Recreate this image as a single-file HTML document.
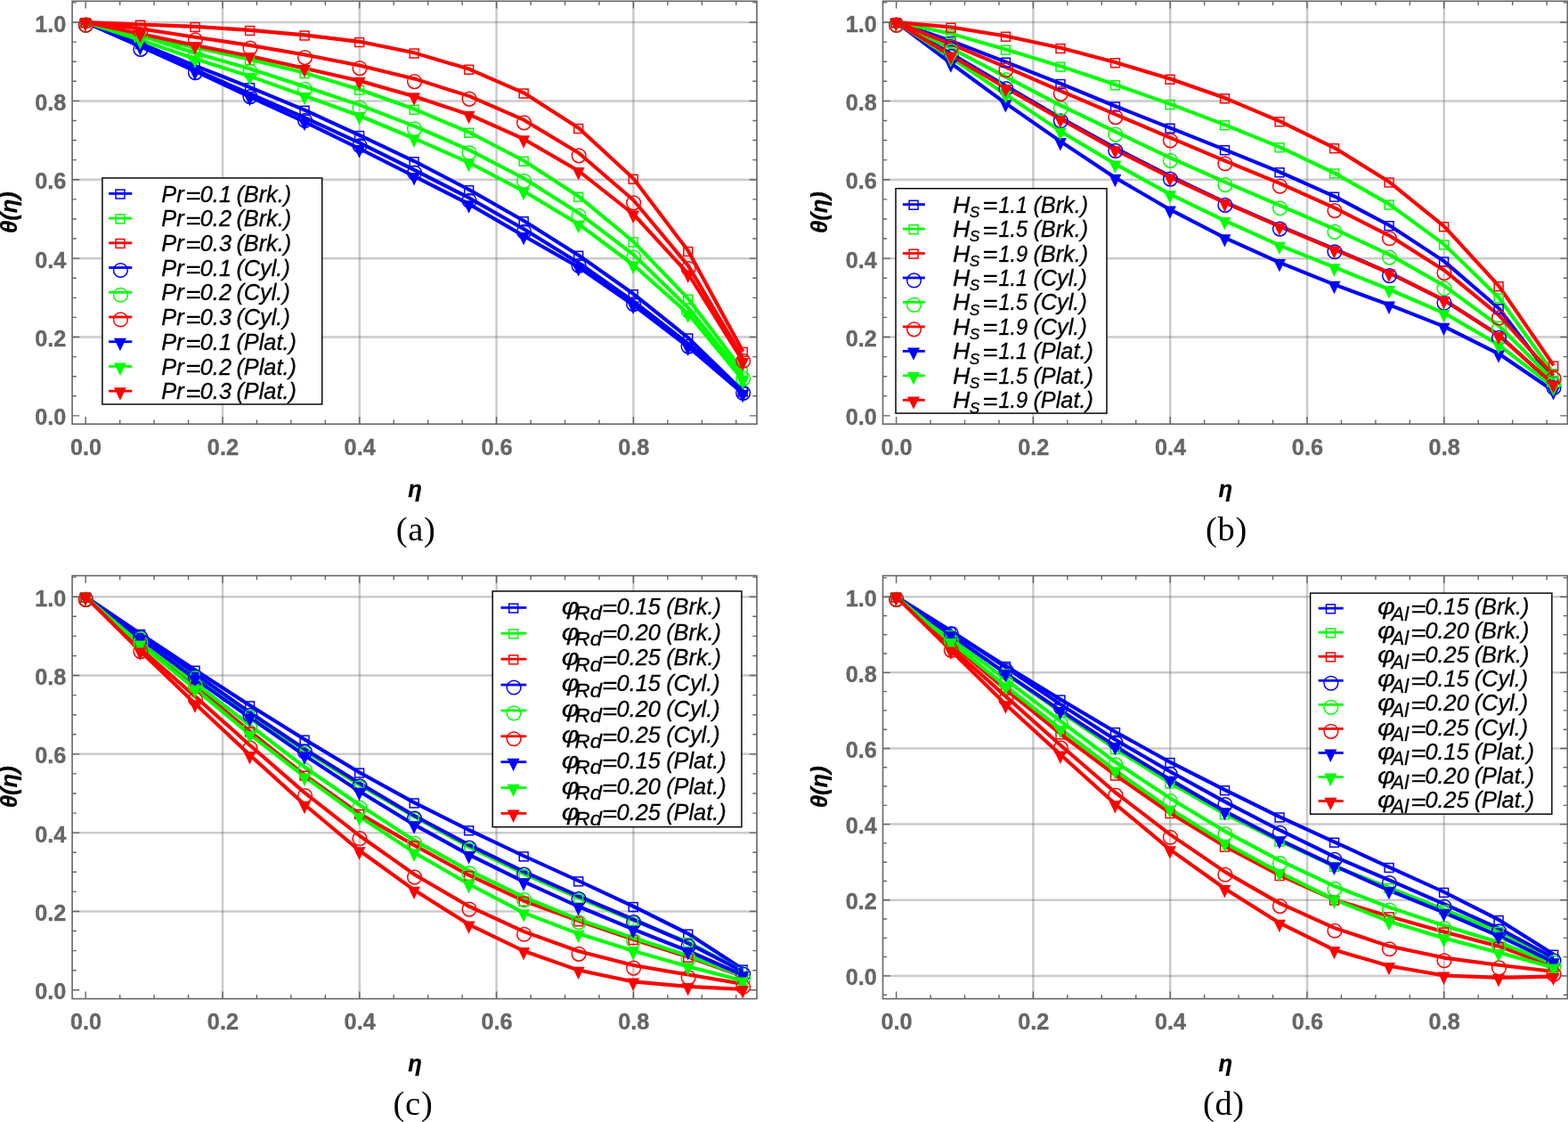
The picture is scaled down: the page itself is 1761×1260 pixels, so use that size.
<!DOCTYPE html>
<html lang="en">
<head>
<meta charset="utf-8">
<title>Temperature profiles</title>
<style>
html,body{margin:0;padding:0;background:#fff;}
body{width:1761px;height:1260px;overflow:hidden;}
svg{display:block;}
text{font-family:"Liberation Sans",Arial,Helvetica,sans-serif;}
.tk{font-weight:bold;font-size:25.3px;fill:#666;stroke:#666;stroke-width:0.35px;}
.ax{font-weight:bold;font-style:italic;font-size:25.6px;fill:#000;stroke:#000;stroke-width:0.3px;}
.lg{font-style:italic;font-size:25.3px;fill:#000;stroke:#000;stroke-width:0.3px;}
.cap{font-family:"Liberation Serif","DejaVu Serif",serif;font-size:38.5px;letter-spacing:0.7px;fill:#000;}
</style>
</head>
<body>
<svg width="1761" height="1260" viewBox="0 0 1761 1260" role="img" aria-label="Temperature profiles for four parameter studies">
<rect width="1761" height="1260" fill="#fff"/>
<g id="panel-a">
<g stroke="#666" stroke-opacity="0.34" stroke-width="2.5" fill="none">
<path d="M250 1.3V476.2"/>
<path d="M403.8 1.3V476.2"/>
<path d="M557.6 1.3V476.2"/>
<path d="M711.4 1.3V476.2"/>
<path d="M81.1 378.52H850"/>
<path d="M81.1 290.14H850"/>
<path d="M81.1 201.76H850"/>
<path d="M81.1 113.38H850"/>
<path d="M81.1 25H850"/>
</g>
<g fill="none" stroke-width="4.1" stroke-linejoin="round">
<path d="M96.2 25L157.72 48.85L219.24 73.85L280.76 98.05L342.28 123.55L403.8 151.85L465.32 181.05L526.84 213.05L588.36 248.05L649.88 286.65L711.4 330.05L772.92 379.35L834.44 439.35" stroke="#0000ff"/>
<path d="M96.2 25L157.72 40.35L219.24 53.35L280.76 66.85L342.28 81.85L403.8 100.55L465.32 122.55L526.84 148.55L588.36 180.55L649.88 220.55L711.4 271.35L772.92 335.55L834.44 416.75" stroke="#00ff00"/>
<path d="M96.2 25L157.72 27.55L219.24 29.85L280.76 33.85L342.28 39.35L403.8 46.85L465.32 59.35L526.84 77.55L588.36 104.35L649.88 143.85L711.4 200.55L772.92 281.85L834.44 394.75" stroke="#ff0000"/>
<path d="M96.2 25L157.72 52.2L219.24 78.4L280.76 105.4L342.28 132.2L403.8 160.4L465.32 190.9L526.84 222.2L588.36 257.2L649.88 295.2L711.4 338.4L772.92 385.9L834.44 438.2" stroke="#0000ff"/>
<path d="M96.2 25L157.72 39.7L219.24 59.7L280.76 77.2L342.28 97.2L403.8 117.9L465.32 141.7L526.84 168.4L588.36 200.2L649.88 239.2L711.4 285.9L772.92 345.9L834.44 422.1" stroke="#00ff00"/>
<path d="M96.2 25L157.72 32.2L219.24 41.7L280.76 50.9L342.28 61.4L403.8 73.4L465.32 88.4L526.84 107.9L588.36 134.7L649.88 171.7L711.4 224.7L772.92 298.4L834.44 402.1" stroke="#ff0000"/>
<path d="M96.2 25L157.72 52L219.24 80L280.76 108.8L342.28 136.8L403.8 167L465.32 198L526.84 229.2L588.36 265L649.88 300L711.4 342.5L772.92 389.5L834.44 442" stroke="#0000ff"/>
<path d="M96.2 25L157.72 45L219.24 66.1L280.76 85.6L342.28 107.6L403.8 130L465.32 155.5L526.84 182.7L588.36 214.7L649.88 251.7L711.4 297.5L772.92 352.5L834.44 427" stroke="#00ff00"/>
<path d="M96.2 25L157.72 38L219.24 51L280.76 63L342.28 76.8L403.8 90.7L465.32 108.2L526.84 128.7L588.36 156.2L649.88 192L711.4 240.5L772.92 307.5L834.44 406" stroke="#ff0000"/>
</g>
<g><rect x="91.05" y="20.7" width="9.9" height="9.9" fill="none" stroke="#0000ff" stroke-width="1.5"/><rect x="152.57" y="44.55" width="9.9" height="9.9" fill="none" stroke="#0000ff" stroke-width="1.5"/><rect x="214.09" y="69.55" width="9.9" height="9.9" fill="none" stroke="#0000ff" stroke-width="1.5"/><rect x="275.61" y="93.75" width="9.9" height="9.9" fill="none" stroke="#0000ff" stroke-width="1.5"/><rect x="337.13" y="119.25" width="9.9" height="9.9" fill="none" stroke="#0000ff" stroke-width="1.5"/><rect x="398.65" y="147.55" width="9.9" height="9.9" fill="none" stroke="#0000ff" stroke-width="1.5"/><rect x="460.17" y="176.75" width="9.9" height="9.9" fill="none" stroke="#0000ff" stroke-width="1.5"/><rect x="521.69" y="208.75" width="9.9" height="9.9" fill="none" stroke="#0000ff" stroke-width="1.5"/><rect x="583.21" y="243.75" width="9.9" height="9.9" fill="none" stroke="#0000ff" stroke-width="1.5"/><rect x="644.73" y="282.35" width="9.9" height="9.9" fill="none" stroke="#0000ff" stroke-width="1.5"/><rect x="706.25" y="325.75" width="9.9" height="9.9" fill="none" stroke="#0000ff" stroke-width="1.5"/><rect x="767.77" y="375.05" width="9.9" height="9.9" fill="none" stroke="#0000ff" stroke-width="1.5"/><rect x="829.29" y="435.05" width="9.9" height="9.9" fill="none" stroke="#0000ff" stroke-width="1.5"/></g>
<g><rect x="91.05" y="20.7" width="9.9" height="9.9" fill="none" stroke="#00ff00" stroke-width="1.5"/><rect x="152.57" y="36.05" width="9.9" height="9.9" fill="none" stroke="#00ff00" stroke-width="1.5"/><rect x="214.09" y="49.05" width="9.9" height="9.9" fill="none" stroke="#00ff00" stroke-width="1.5"/><rect x="275.61" y="62.55" width="9.9" height="9.9" fill="none" stroke="#00ff00" stroke-width="1.5"/><rect x="337.13" y="77.55" width="9.9" height="9.9" fill="none" stroke="#00ff00" stroke-width="1.5"/><rect x="398.65" y="96.25" width="9.9" height="9.9" fill="none" stroke="#00ff00" stroke-width="1.5"/><rect x="460.17" y="118.25" width="9.9" height="9.9" fill="none" stroke="#00ff00" stroke-width="1.5"/><rect x="521.69" y="144.25" width="9.9" height="9.9" fill="none" stroke="#00ff00" stroke-width="1.5"/><rect x="583.21" y="176.25" width="9.9" height="9.9" fill="none" stroke="#00ff00" stroke-width="1.5"/><rect x="644.73" y="216.25" width="9.9" height="9.9" fill="none" stroke="#00ff00" stroke-width="1.5"/><rect x="706.25" y="267.05" width="9.9" height="9.9" fill="none" stroke="#00ff00" stroke-width="1.5"/><rect x="767.77" y="331.25" width="9.9" height="9.9" fill="none" stroke="#00ff00" stroke-width="1.5"/><rect x="829.29" y="412.45" width="9.9" height="9.9" fill="none" stroke="#00ff00" stroke-width="1.5"/></g>
<g><rect x="91.05" y="20.7" width="9.9" height="9.9" fill="none" stroke="#ff0000" stroke-width="1.5"/><rect x="152.57" y="23.25" width="9.9" height="9.9" fill="none" stroke="#ff0000" stroke-width="1.5"/><rect x="214.09" y="25.55" width="9.9" height="9.9" fill="none" stroke="#ff0000" stroke-width="1.5"/><rect x="275.61" y="29.55" width="9.9" height="9.9" fill="none" stroke="#ff0000" stroke-width="1.5"/><rect x="337.13" y="35.05" width="9.9" height="9.9" fill="none" stroke="#ff0000" stroke-width="1.5"/><rect x="398.65" y="42.55" width="9.9" height="9.9" fill="none" stroke="#ff0000" stroke-width="1.5"/><rect x="460.17" y="55.05" width="9.9" height="9.9" fill="none" stroke="#ff0000" stroke-width="1.5"/><rect x="521.69" y="73.25" width="9.9" height="9.9" fill="none" stroke="#ff0000" stroke-width="1.5"/><rect x="583.21" y="100.05" width="9.9" height="9.9" fill="none" stroke="#ff0000" stroke-width="1.5"/><rect x="644.73" y="139.55" width="9.9" height="9.9" fill="none" stroke="#ff0000" stroke-width="1.5"/><rect x="706.25" y="196.25" width="9.9" height="9.9" fill="none" stroke="#ff0000" stroke-width="1.5"/><rect x="767.77" y="277.55" width="9.9" height="9.9" fill="none" stroke="#ff0000" stroke-width="1.5"/><rect x="829.29" y="390.45" width="9.9" height="9.9" fill="none" stroke="#ff0000" stroke-width="1.5"/></g>
<g><circle cx="96.4" cy="28.15" r="7.85" fill="none" stroke="#0000ff" stroke-width="1.5"/><circle cx="157.92" cy="55.35" r="7.85" fill="none" stroke="#0000ff" stroke-width="1.5"/><circle cx="219.44" cy="81.55" r="7.85" fill="none" stroke="#0000ff" stroke-width="1.5"/><circle cx="280.96" cy="108.55" r="7.85" fill="none" stroke="#0000ff" stroke-width="1.5"/><circle cx="342.48" cy="135.35" r="7.85" fill="none" stroke="#0000ff" stroke-width="1.5"/><circle cx="404" cy="163.55" r="7.85" fill="none" stroke="#0000ff" stroke-width="1.5"/><circle cx="465.52" cy="194.05" r="7.85" fill="none" stroke="#0000ff" stroke-width="1.5"/><circle cx="527.04" cy="225.35" r="7.85" fill="none" stroke="#0000ff" stroke-width="1.5"/><circle cx="588.56" cy="260.35" r="7.85" fill="none" stroke="#0000ff" stroke-width="1.5"/><circle cx="650.08" cy="298.35" r="7.85" fill="none" stroke="#0000ff" stroke-width="1.5"/><circle cx="711.6" cy="341.55" r="7.85" fill="none" stroke="#0000ff" stroke-width="1.5"/><circle cx="773.12" cy="389.05" r="7.85" fill="none" stroke="#0000ff" stroke-width="1.5"/><circle cx="834.64" cy="441.35" r="7.85" fill="none" stroke="#0000ff" stroke-width="1.5"/></g>
<g><circle cx="96.4" cy="28.15" r="7.85" fill="none" stroke="#00ff00" stroke-width="1.5"/><circle cx="157.92" cy="42.85" r="7.85" fill="none" stroke="#00ff00" stroke-width="1.5"/><circle cx="219.44" cy="62.85" r="7.85" fill="none" stroke="#00ff00" stroke-width="1.5"/><circle cx="280.96" cy="80.35" r="7.85" fill="none" stroke="#00ff00" stroke-width="1.5"/><circle cx="342.48" cy="100.35" r="7.85" fill="none" stroke="#00ff00" stroke-width="1.5"/><circle cx="404" cy="121.05" r="7.85" fill="none" stroke="#00ff00" stroke-width="1.5"/><circle cx="465.52" cy="144.85" r="7.85" fill="none" stroke="#00ff00" stroke-width="1.5"/><circle cx="527.04" cy="171.55" r="7.85" fill="none" stroke="#00ff00" stroke-width="1.5"/><circle cx="588.56" cy="203.35" r="7.85" fill="none" stroke="#00ff00" stroke-width="1.5"/><circle cx="650.08" cy="242.35" r="7.85" fill="none" stroke="#00ff00" stroke-width="1.5"/><circle cx="711.6" cy="289.05" r="7.85" fill="none" stroke="#00ff00" stroke-width="1.5"/><circle cx="773.12" cy="349.05" r="7.85" fill="none" stroke="#00ff00" stroke-width="1.5"/><circle cx="834.64" cy="425.25" r="7.85" fill="none" stroke="#00ff00" stroke-width="1.5"/></g>
<g><circle cx="96.4" cy="28.15" r="7.85" fill="none" stroke="#ff0000" stroke-width="1.5"/><circle cx="157.92" cy="35.35" r="7.85" fill="none" stroke="#ff0000" stroke-width="1.5"/><circle cx="219.44" cy="44.85" r="7.85" fill="none" stroke="#ff0000" stroke-width="1.5"/><circle cx="280.96" cy="54.05" r="7.85" fill="none" stroke="#ff0000" stroke-width="1.5"/><circle cx="342.48" cy="64.55" r="7.85" fill="none" stroke="#ff0000" stroke-width="1.5"/><circle cx="404" cy="76.55" r="7.85" fill="none" stroke="#ff0000" stroke-width="1.5"/><circle cx="465.52" cy="91.55" r="7.85" fill="none" stroke="#ff0000" stroke-width="1.5"/><circle cx="527.04" cy="111.05" r="7.85" fill="none" stroke="#ff0000" stroke-width="1.5"/><circle cx="588.56" cy="137.85" r="7.85" fill="none" stroke="#ff0000" stroke-width="1.5"/><circle cx="650.08" cy="174.85" r="7.85" fill="none" stroke="#ff0000" stroke-width="1.5"/><circle cx="711.6" cy="227.85" r="7.85" fill="none" stroke="#ff0000" stroke-width="1.5"/><circle cx="773.12" cy="301.55" r="7.85" fill="none" stroke="#ff0000" stroke-width="1.5"/><circle cx="834.64" cy="405.25" r="7.85" fill="none" stroke="#ff0000" stroke-width="1.5"/></g>
<g><path d="M88.9 21.1H102.9L95.9 35.5Z" fill="#0000ff"/><path d="M150.42 48.1H164.42L157.42 62.5Z" fill="#0000ff"/><path d="M211.94 76.1H225.94L218.94 90.5Z" fill="#0000ff"/><path d="M273.46 104.9H287.46L280.46 119.3Z" fill="#0000ff"/><path d="M334.98 132.9H348.98L341.98 147.3Z" fill="#0000ff"/><path d="M396.5 163.1H410.5L403.5 177.5Z" fill="#0000ff"/><path d="M458.02 194.1H472.02L465.02 208.5Z" fill="#0000ff"/><path d="M519.54 225.3H533.54L526.54 239.7Z" fill="#0000ff"/><path d="M581.06 261.1H595.06L588.06 275.5Z" fill="#0000ff"/><path d="M642.58 296.1H656.58L649.58 310.5Z" fill="#0000ff"/><path d="M704.1 338.6H718.1L711.1 353Z" fill="#0000ff"/><path d="M765.62 385.6H779.62L772.62 400Z" fill="#0000ff"/><path d="M827.14 438.1H841.14L834.14 452.5Z" fill="#0000ff"/></g>
<g><path d="M88.9 21.1H102.9L95.9 35.5Z" fill="#00ff00"/><path d="M150.42 41.1H164.42L157.42 55.5Z" fill="#00ff00"/><path d="M211.94 62.2H225.94L218.94 76.6Z" fill="#00ff00"/><path d="M273.46 81.7H287.46L280.46 96.1Z" fill="#00ff00"/><path d="M334.98 103.7H348.98L341.98 118.1Z" fill="#00ff00"/><path d="M396.5 126.1H410.5L403.5 140.5Z" fill="#00ff00"/><path d="M458.02 151.6H472.02L465.02 166Z" fill="#00ff00"/><path d="M519.54 178.8H533.54L526.54 193.2Z" fill="#00ff00"/><path d="M581.06 210.8H595.06L588.06 225.2Z" fill="#00ff00"/><path d="M642.58 247.8H656.58L649.58 262.2Z" fill="#00ff00"/><path d="M704.1 293.6H718.1L711.1 308Z" fill="#00ff00"/><path d="M765.62 348.6H779.62L772.62 363Z" fill="#00ff00"/><path d="M827.14 423.1H841.14L834.14 437.5Z" fill="#00ff00"/></g>
<g><path d="M88.9 21.1H102.9L95.9 35.5Z" fill="#ff0000"/><path d="M150.42 34.1H164.42L157.42 48.5Z" fill="#ff0000"/><path d="M211.94 47.1H225.94L218.94 61.5Z" fill="#ff0000"/><path d="M273.46 59.1H287.46L280.46 73.5Z" fill="#ff0000"/><path d="M334.98 72.9H348.98L341.98 87.3Z" fill="#ff0000"/><path d="M396.5 86.8H410.5L403.5 101.2Z" fill="#ff0000"/><path d="M458.02 104.3H472.02L465.02 118.7Z" fill="#ff0000"/><path d="M519.54 124.8H533.54L526.54 139.2Z" fill="#ff0000"/><path d="M581.06 152.3H595.06L588.06 166.7Z" fill="#ff0000"/><path d="M642.58 188.1H656.58L649.58 202.5Z" fill="#ff0000"/><path d="M704.1 236.6H718.1L711.1 251Z" fill="#ff0000"/><path d="M765.62 303.6H779.62L772.62 318Z" fill="#ff0000"/><path d="M827.14 402.1H841.14L834.14 416.5Z" fill="#ff0000"/></g>
<path d="M96.2 476.2v-8.2M96.2 1.3v8.2M134.65 476.2v-4.7M134.65 1.3v4.7M173.1 476.2v-4.7M173.1 1.3v4.7M211.55 476.2v-4.7M211.55 1.3v4.7M250 476.2v-8.2M250 1.3v8.2M288.45 476.2v-4.7M288.45 1.3v4.7M326.9 476.2v-4.7M326.9 1.3v4.7M365.35 476.2v-4.7M365.35 1.3v4.7M403.8 476.2v-8.2M403.8 1.3v8.2M442.25 476.2v-4.7M442.25 1.3v4.7M480.7 476.2v-4.7M480.7 1.3v4.7M519.15 476.2v-4.7M519.15 1.3v4.7M557.6 476.2v-8.2M557.6 1.3v8.2M596.05 476.2v-4.7M596.05 1.3v4.7M634.5 476.2v-4.7M634.5 1.3v4.7M672.95 476.2v-4.7M672.95 1.3v4.7M711.4 476.2v-8.2M711.4 1.3v8.2M749.85 476.2v-4.7M749.85 1.3v4.7M788.3 476.2v-4.7M788.3 1.3v4.7M826.75 476.2v-4.7M826.75 1.3v4.7M81.1 466.9h8.2M850 466.9h-8.2M81.1 444.8h4.7M850 444.8h-4.7M81.1 422.71h4.7M850 422.71h-4.7M81.1 400.61h4.7M850 400.61h-4.7M81.1 378.52h8.2M850 378.52h-8.2M81.1 356.42h4.7M850 356.42h-4.7M81.1 334.33h4.7M850 334.33h-4.7M81.1 312.23h4.7M850 312.23h-4.7M81.1 290.14h8.2M850 290.14h-8.2M81.1 268.05h4.7M850 268.05h-4.7M81.1 245.95h4.7M850 245.95h-4.7M81.1 223.85h4.7M850 223.85h-4.7M81.1 201.76h8.2M850 201.76h-8.2M81.1 179.66h4.7M850 179.66h-4.7M81.1 157.57h4.7M850 157.57h-4.7M81.1 135.47h4.7M850 135.47h-4.7M81.1 113.38h8.2M850 113.38h-8.2M81.1 91.28h4.7M850 91.28h-4.7M81.1 69.19h4.7M850 69.19h-4.7M81.1 47.09h4.7M850 47.09h-4.7M81.1 25h8.2M850 25h-8.2M81.1 2.9h4.7M850 2.9h-4.7" stroke="#666666" stroke-width="1.4" fill="none"/>
<rect x="81.1" y="1.3" width="768.9" height="474.9" fill="none" stroke="#666666" stroke-width="1.6"/>
<text class="tk" text-anchor="end" transform="translate(74.4 477.4) scale(1 1.035)">0.0</text>
<text class="tk" text-anchor="end" transform="translate(74.4 389.02) scale(1 1.035)">0.2</text>
<text class="tk" text-anchor="end" transform="translate(74.4 300.64) scale(1 1.035)">0.4</text>
<text class="tk" text-anchor="end" transform="translate(74.4 212.26) scale(1 1.035)">0.6</text>
<text class="tk" text-anchor="end" transform="translate(74.4 123.88) scale(1 1.035)">0.8</text>
<text class="tk" text-anchor="end" transform="translate(74.4 35.5) scale(1 1.035)">1.0</text>
<text class="tk" text-anchor="middle" transform="translate(96.6 510.7) scale(1 1.035)">0.0</text>
<text class="tk" text-anchor="middle" transform="translate(250.4 510.7) scale(1 1.035)">0.2</text>
<text class="tk" text-anchor="middle" transform="translate(404.2 510.7) scale(1 1.035)">0.4</text>
<text class="tk" text-anchor="middle" transform="translate(558 510.7) scale(1 1.035)">0.6</text>
<text class="tk" text-anchor="middle" transform="translate(711.8 510.7) scale(1 1.035)">0.8</text>
<text class="ax" text-anchor="middle" transform="translate(466 557.8)">η</text>
<text class="ax" text-anchor="middle" transform="translate(18.9 238.6) rotate(-90)">θ(η)</text>
<text class="cap" text-anchor="middle" transform="translate(467.1 606.7)">(a)</text>
<rect x="114.9" y="199.9" width="246.8" height="254.1" fill="#fff" stroke="#000" stroke-width="1.45"/>
<path d="M122.1 217.4H148.3" stroke="#0000ff" stroke-width="2.8" fill="none"/>
<rect x="130.05" y="213.1" width="9.9" height="9.9" fill="none" stroke="#0000ff" stroke-width="1.5"/>
<text class="lg" transform="translate(181.3 226.5) scale(1 1.055)">Pr</text>
<text class="lg" transform="translate(208.3 227.9) scale(1.16 1)">=</text>
<text class="lg" transform="translate(224.8 226.5) scale(1 1.055)">0.1</text>
<text class="lg" transform="translate(265.4 226.5) scale(1 1.055)">(Brk.)</text>
<path d="M122.1 245.12H148.3" stroke="#00ff00" stroke-width="2.8" fill="none"/>
<rect x="130.05" y="240.82" width="9.9" height="9.9" fill="none" stroke="#00ff00" stroke-width="1.5"/>
<text class="lg" transform="translate(181.3 254.22) scale(1 1.055)">Pr</text>
<text class="lg" transform="translate(208.3 255.62) scale(1.16 1)">=</text>
<text class="lg" transform="translate(224.8 254.22) scale(1 1.055)">0.2</text>
<text class="lg" transform="translate(265.4 254.22) scale(1 1.055)">(Brk.)</text>
<path d="M122.1 272.84H148.3" stroke="#ff0000" stroke-width="2.8" fill="none"/>
<rect x="130.05" y="268.54" width="9.9" height="9.9" fill="none" stroke="#ff0000" stroke-width="1.5"/>
<text class="lg" transform="translate(181.3 281.94) scale(1 1.055)">Pr</text>
<text class="lg" transform="translate(208.3 283.34) scale(1.16 1)">=</text>
<text class="lg" transform="translate(224.8 281.94) scale(1 1.055)">0.3</text>
<text class="lg" transform="translate(265.4 281.94) scale(1 1.055)">(Brk.)</text>
<path d="M122.1 300.56H148.3" stroke="#0000ff" stroke-width="2.8" fill="none"/>
<circle cx="135.4" cy="303.51" r="7.85" fill="none" stroke="#0000ff" stroke-width="1.5"/>
<text class="lg" transform="translate(181.3 309.66) scale(1 1.055)">Pr</text>
<text class="lg" transform="translate(208.3 311.06) scale(1.16 1)">=</text>
<text class="lg" transform="translate(224.8 309.66) scale(1 1.055)">0.1</text>
<text class="lg" transform="translate(265.4 309.66) scale(1 1.055)">(Cyl.)</text>
<path d="M122.1 328.28H148.3" stroke="#00ff00" stroke-width="2.8" fill="none"/>
<circle cx="135.4" cy="331.23" r="7.85" fill="none" stroke="#00ff00" stroke-width="1.5"/>
<text class="lg" transform="translate(181.3 337.38) scale(1 1.055)">Pr</text>
<text class="lg" transform="translate(208.3 338.78) scale(1.16 1)">=</text>
<text class="lg" transform="translate(224.8 337.38) scale(1 1.055)">0.2</text>
<text class="lg" transform="translate(265.4 337.38) scale(1 1.055)">(Cyl.)</text>
<path d="M122.1 356H148.3" stroke="#ff0000" stroke-width="2.8" fill="none"/>
<circle cx="135.4" cy="358.95" r="7.85" fill="none" stroke="#ff0000" stroke-width="1.5"/>
<text class="lg" transform="translate(181.3 365.1) scale(1 1.055)">Pr</text>
<text class="lg" transform="translate(208.3 366.5) scale(1.16 1)">=</text>
<text class="lg" transform="translate(224.8 365.1) scale(1 1.055)">0.3</text>
<text class="lg" transform="translate(265.4 365.1) scale(1 1.055)">(Cyl.)</text>
<path d="M122.1 383.72H148.3" stroke="#0000ff" stroke-width="2.8" fill="none"/>
<path d="M127.9 379.82H141.9L134.9 394.22Z" fill="#0000ff"/>
<text class="lg" transform="translate(181.3 392.82) scale(1 1.055)">Pr</text>
<text class="lg" transform="translate(208.3 394.22) scale(1.16 1)">=</text>
<text class="lg" transform="translate(224.8 392.82) scale(1 1.055)">0.1</text>
<text class="lg" transform="translate(265.4 392.82) scale(1 1.055)">(Plat.)</text>
<path d="M122.1 411.44H148.3" stroke="#00ff00" stroke-width="2.8" fill="none"/>
<path d="M127.9 407.54H141.9L134.9 421.94Z" fill="#00ff00"/>
<text class="lg" transform="translate(181.3 420.54) scale(1 1.055)">Pr</text>
<text class="lg" transform="translate(208.3 421.94) scale(1.16 1)">=</text>
<text class="lg" transform="translate(224.8 420.54) scale(1 1.055)">0.2</text>
<text class="lg" transform="translate(265.4 420.54) scale(1 1.055)">(Plat.)</text>
<path d="M122.1 439.16H148.3" stroke="#ff0000" stroke-width="2.8" fill="none"/>
<path d="M127.9 435.26H141.9L134.9 449.66Z" fill="#ff0000"/>
<text class="lg" transform="translate(181.3 448.26) scale(1 1.055)">Pr</text>
<text class="lg" transform="translate(208.3 449.66) scale(1.16 1)">=</text>
<text class="lg" transform="translate(224.8 448.26) scale(1 1.055)">0.3</text>
<text class="lg" transform="translate(265.4 448.26) scale(1 1.055)">(Plat.)</text>
</g>
<g id="panel-b">
<g stroke="#666" stroke-opacity="0.34" stroke-width="2.5" fill="none">
<path d="M1160.4 1.3V476.2"/>
<path d="M1314.2 1.3V476.2"/>
<path d="M1468 1.3V476.2"/>
<path d="M1621.8 1.3V476.2"/>
<path d="M991.5 378.52H1760.4"/>
<path d="M991.5 290.14H1760.4"/>
<path d="M991.5 201.76H1760.4"/>
<path d="M991.5 113.38H1760.4"/>
<path d="M991.5 25H1760.4"/>
</g>
<g fill="none" stroke-width="4.1" stroke-linejoin="round">
<path d="M1006.6 25L1068.12 45.85L1129.64 69.55L1191.16 93.85L1252.68 119.25L1314.2 143.55L1375.72 168.05L1437.24 193.05L1498.76 220.55L1560.28 253.05L1621.8 293.35L1683.32 346.25L1744.84 427.35" stroke="#0000ff"/>
<path d="M1006.6 25L1068.12 37.85L1129.64 55.55L1191.16 74.35L1252.68 95.05L1314.2 116.85L1375.72 140.05L1437.24 165.05L1498.76 194.35L1560.28 229.35L1621.8 274.35L1683.32 334.25L1744.84 419.35" stroke="#00ff00"/>
<path d="M1006.6 25L1068.12 30.55L1129.64 40.55L1191.16 53.85L1252.68 70.05L1314.2 88.55L1375.72 110.05L1437.24 136.05L1498.76 166.05L1560.28 204.35L1621.8 254.05L1683.32 321.05L1744.84 410.45" stroke="#ff0000"/>
<path d="M1006.6 25L1068.12 60.2L1129.64 96.4L1191.16 132.6L1252.68 166.3L1314.2 197.9L1375.72 227.2L1437.24 253.9L1498.76 279.6L1560.28 306.4L1621.8 337.1L1683.32 376.3L1744.84 432.2" stroke="#0000ff"/>
<path d="M1006.6 25L1068.12 54.2L1129.64 86.4L1191.16 118.4L1252.68 147.9L1314.2 177.2L1375.72 204.4L1437.24 230.6L1498.76 257.2L1560.28 285.9L1621.8 320.8L1683.32 365.8L1744.84 427.2" stroke="#00ff00"/>
<path d="M1006.6 25L1068.12 49.7L1129.64 75.4L1191.16 102.2L1252.68 128.4L1314.2 154.7L1375.72 180.6L1437.24 205.9L1498.76 233.4L1560.28 264.6L1621.8 303.4L1683.32 353.8L1744.84 422" stroke="#ff0000"/>
<path d="M1006.6 25L1068.12 71.2L1129.64 116.1L1191.16 158.9L1252.68 199.7L1314.2 235.4L1375.72 267.1L1437.24 294.9L1498.76 319.7L1560.28 342.4L1621.8 366.6L1683.32 397.3L1744.84 439" stroke="#0000ff"/>
<path d="M1006.6 25L1068.12 65L1129.64 106.1L1191.16 147.4L1252.68 184.3L1314.2 218.1L1375.72 247.8L1437.24 275.6L1498.76 300.2L1560.28 325L1621.8 351.6L1683.32 387.3L1744.84 435" stroke="#00ff00"/>
<path d="M1006.6 25L1068.12 62.5L1129.64 98.8L1191.16 133.8L1252.68 168.1L1314.2 199.2L1375.72 227.7L1437.24 254.3L1498.76 280.2L1560.28 306.5L1621.8 336.9L1683.32 376.9L1744.84 431.5" stroke="#ff0000"/>
</g>
<g><rect x="1001.45" y="20.7" width="9.9" height="9.9" fill="none" stroke="#0000ff" stroke-width="1.5"/><rect x="1062.97" y="41.55" width="9.9" height="9.9" fill="none" stroke="#0000ff" stroke-width="1.5"/><rect x="1124.49" y="65.25" width="9.9" height="9.9" fill="none" stroke="#0000ff" stroke-width="1.5"/><rect x="1186.01" y="89.55" width="9.9" height="9.9" fill="none" stroke="#0000ff" stroke-width="1.5"/><rect x="1247.53" y="114.95" width="9.9" height="9.9" fill="none" stroke="#0000ff" stroke-width="1.5"/><rect x="1309.05" y="139.25" width="9.9" height="9.9" fill="none" stroke="#0000ff" stroke-width="1.5"/><rect x="1370.57" y="163.75" width="9.9" height="9.9" fill="none" stroke="#0000ff" stroke-width="1.5"/><rect x="1432.09" y="188.75" width="9.9" height="9.9" fill="none" stroke="#0000ff" stroke-width="1.5"/><rect x="1493.61" y="216.25" width="9.9" height="9.9" fill="none" stroke="#0000ff" stroke-width="1.5"/><rect x="1555.13" y="248.75" width="9.9" height="9.9" fill="none" stroke="#0000ff" stroke-width="1.5"/><rect x="1616.65" y="289.05" width="9.9" height="9.9" fill="none" stroke="#0000ff" stroke-width="1.5"/><rect x="1678.17" y="341.95" width="9.9" height="9.9" fill="none" stroke="#0000ff" stroke-width="1.5"/><rect x="1739.69" y="423.05" width="9.9" height="9.9" fill="none" stroke="#0000ff" stroke-width="1.5"/></g>
<g><rect x="1001.45" y="20.7" width="9.9" height="9.9" fill="none" stroke="#00ff00" stroke-width="1.5"/><rect x="1062.97" y="33.55" width="9.9" height="9.9" fill="none" stroke="#00ff00" stroke-width="1.5"/><rect x="1124.49" y="51.25" width="9.9" height="9.9" fill="none" stroke="#00ff00" stroke-width="1.5"/><rect x="1186.01" y="70.05" width="9.9" height="9.9" fill="none" stroke="#00ff00" stroke-width="1.5"/><rect x="1247.53" y="90.75" width="9.9" height="9.9" fill="none" stroke="#00ff00" stroke-width="1.5"/><rect x="1309.05" y="112.55" width="9.9" height="9.9" fill="none" stroke="#00ff00" stroke-width="1.5"/><rect x="1370.57" y="135.75" width="9.9" height="9.9" fill="none" stroke="#00ff00" stroke-width="1.5"/><rect x="1432.09" y="160.75" width="9.9" height="9.9" fill="none" stroke="#00ff00" stroke-width="1.5"/><rect x="1493.61" y="190.05" width="9.9" height="9.9" fill="none" stroke="#00ff00" stroke-width="1.5"/><rect x="1555.13" y="225.05" width="9.9" height="9.9" fill="none" stroke="#00ff00" stroke-width="1.5"/><rect x="1616.65" y="270.05" width="9.9" height="9.9" fill="none" stroke="#00ff00" stroke-width="1.5"/><rect x="1678.17" y="329.95" width="9.9" height="9.9" fill="none" stroke="#00ff00" stroke-width="1.5"/><rect x="1739.69" y="415.05" width="9.9" height="9.9" fill="none" stroke="#00ff00" stroke-width="1.5"/></g>
<g><rect x="1001.45" y="20.7" width="9.9" height="9.9" fill="none" stroke="#ff0000" stroke-width="1.5"/><rect x="1062.97" y="26.25" width="9.9" height="9.9" fill="none" stroke="#ff0000" stroke-width="1.5"/><rect x="1124.49" y="36.25" width="9.9" height="9.9" fill="none" stroke="#ff0000" stroke-width="1.5"/><rect x="1186.01" y="49.55" width="9.9" height="9.9" fill="none" stroke="#ff0000" stroke-width="1.5"/><rect x="1247.53" y="65.75" width="9.9" height="9.9" fill="none" stroke="#ff0000" stroke-width="1.5"/><rect x="1309.05" y="84.25" width="9.9" height="9.9" fill="none" stroke="#ff0000" stroke-width="1.5"/><rect x="1370.57" y="105.75" width="9.9" height="9.9" fill="none" stroke="#ff0000" stroke-width="1.5"/><rect x="1432.09" y="131.75" width="9.9" height="9.9" fill="none" stroke="#ff0000" stroke-width="1.5"/><rect x="1493.61" y="161.75" width="9.9" height="9.9" fill="none" stroke="#ff0000" stroke-width="1.5"/><rect x="1555.13" y="200.05" width="9.9" height="9.9" fill="none" stroke="#ff0000" stroke-width="1.5"/><rect x="1616.65" y="249.75" width="9.9" height="9.9" fill="none" stroke="#ff0000" stroke-width="1.5"/><rect x="1678.17" y="316.75" width="9.9" height="9.9" fill="none" stroke="#ff0000" stroke-width="1.5"/><rect x="1739.69" y="406.15" width="9.9" height="9.9" fill="none" stroke="#ff0000" stroke-width="1.5"/></g>
<g><circle cx="1006.8" cy="28.15" r="7.85" fill="none" stroke="#0000ff" stroke-width="1.5"/><circle cx="1068.32" cy="63.35" r="7.85" fill="none" stroke="#0000ff" stroke-width="1.5"/><circle cx="1129.84" cy="99.55" r="7.85" fill="none" stroke="#0000ff" stroke-width="1.5"/><circle cx="1191.36" cy="135.75" r="7.85" fill="none" stroke="#0000ff" stroke-width="1.5"/><circle cx="1252.88" cy="169.45" r="7.85" fill="none" stroke="#0000ff" stroke-width="1.5"/><circle cx="1314.4" cy="201.05" r="7.85" fill="none" stroke="#0000ff" stroke-width="1.5"/><circle cx="1375.92" cy="230.35" r="7.85" fill="none" stroke="#0000ff" stroke-width="1.5"/><circle cx="1437.44" cy="257.05" r="7.85" fill="none" stroke="#0000ff" stroke-width="1.5"/><circle cx="1498.96" cy="282.75" r="7.85" fill="none" stroke="#0000ff" stroke-width="1.5"/><circle cx="1560.48" cy="309.55" r="7.85" fill="none" stroke="#0000ff" stroke-width="1.5"/><circle cx="1622" cy="340.25" r="7.85" fill="none" stroke="#0000ff" stroke-width="1.5"/><circle cx="1683.52" cy="379.45" r="7.85" fill="none" stroke="#0000ff" stroke-width="1.5"/><circle cx="1745.04" cy="435.35" r="7.85" fill="none" stroke="#0000ff" stroke-width="1.5"/></g>
<g><circle cx="1006.8" cy="28.15" r="7.85" fill="none" stroke="#00ff00" stroke-width="1.5"/><circle cx="1068.32" cy="57.35" r="7.85" fill="none" stroke="#00ff00" stroke-width="1.5"/><circle cx="1129.84" cy="89.55" r="7.85" fill="none" stroke="#00ff00" stroke-width="1.5"/><circle cx="1191.36" cy="121.55" r="7.85" fill="none" stroke="#00ff00" stroke-width="1.5"/><circle cx="1252.88" cy="151.05" r="7.85" fill="none" stroke="#00ff00" stroke-width="1.5"/><circle cx="1314.4" cy="180.35" r="7.85" fill="none" stroke="#00ff00" stroke-width="1.5"/><circle cx="1375.92" cy="207.55" r="7.85" fill="none" stroke="#00ff00" stroke-width="1.5"/><circle cx="1437.44" cy="233.75" r="7.85" fill="none" stroke="#00ff00" stroke-width="1.5"/><circle cx="1498.96" cy="260.35" r="7.85" fill="none" stroke="#00ff00" stroke-width="1.5"/><circle cx="1560.48" cy="289.05" r="7.85" fill="none" stroke="#00ff00" stroke-width="1.5"/><circle cx="1622" cy="323.95" r="7.85" fill="none" stroke="#00ff00" stroke-width="1.5"/><circle cx="1683.52" cy="368.95" r="7.85" fill="none" stroke="#00ff00" stroke-width="1.5"/><circle cx="1745.04" cy="430.35" r="7.85" fill="none" stroke="#00ff00" stroke-width="1.5"/></g>
<g><circle cx="1006.8" cy="28.15" r="7.85" fill="none" stroke="#ff0000" stroke-width="1.5"/><circle cx="1068.32" cy="52.85" r="7.85" fill="none" stroke="#ff0000" stroke-width="1.5"/><circle cx="1129.84" cy="78.55" r="7.85" fill="none" stroke="#ff0000" stroke-width="1.5"/><circle cx="1191.36" cy="105.35" r="7.85" fill="none" stroke="#ff0000" stroke-width="1.5"/><circle cx="1252.88" cy="131.55" r="7.85" fill="none" stroke="#ff0000" stroke-width="1.5"/><circle cx="1314.4" cy="157.85" r="7.85" fill="none" stroke="#ff0000" stroke-width="1.5"/><circle cx="1375.92" cy="183.75" r="7.85" fill="none" stroke="#ff0000" stroke-width="1.5"/><circle cx="1437.44" cy="209.05" r="7.85" fill="none" stroke="#ff0000" stroke-width="1.5"/><circle cx="1498.96" cy="236.55" r="7.85" fill="none" stroke="#ff0000" stroke-width="1.5"/><circle cx="1560.48" cy="267.75" r="7.85" fill="none" stroke="#ff0000" stroke-width="1.5"/><circle cx="1622" cy="306.55" r="7.85" fill="none" stroke="#ff0000" stroke-width="1.5"/><circle cx="1683.52" cy="356.95" r="7.85" fill="none" stroke="#ff0000" stroke-width="1.5"/><circle cx="1745.04" cy="425.15" r="7.85" fill="none" stroke="#ff0000" stroke-width="1.5"/></g>
<g><path d="M999.3 21.1H1013.3L1006.3 35.5Z" fill="#0000ff"/><path d="M1060.82 67.3H1074.82L1067.82 81.7Z" fill="#0000ff"/><path d="M1122.34 112.2H1136.34L1129.34 126.6Z" fill="#0000ff"/><path d="M1183.86 155H1197.86L1190.86 169.4Z" fill="#0000ff"/><path d="M1245.38 195.8H1259.38L1252.38 210.2Z" fill="#0000ff"/><path d="M1306.9 231.5H1320.9L1313.9 245.9Z" fill="#0000ff"/><path d="M1368.42 263.2H1382.42L1375.42 277.6Z" fill="#0000ff"/><path d="M1429.94 291H1443.94L1436.94 305.4Z" fill="#0000ff"/><path d="M1491.46 315.8H1505.46L1498.46 330.2Z" fill="#0000ff"/><path d="M1552.98 338.5H1566.98L1559.98 352.9Z" fill="#0000ff"/><path d="M1614.5 362.7H1628.5L1621.5 377.1Z" fill="#0000ff"/><path d="M1676.02 393.4H1690.02L1683.02 407.8Z" fill="#0000ff"/><path d="M1737.54 435.1H1751.54L1744.54 449.5Z" fill="#0000ff"/></g>
<g><path d="M999.3 21.1H1013.3L1006.3 35.5Z" fill="#00ff00"/><path d="M1060.82 61.1H1074.82L1067.82 75.5Z" fill="#00ff00"/><path d="M1122.34 102.2H1136.34L1129.34 116.6Z" fill="#00ff00"/><path d="M1183.86 143.5H1197.86L1190.86 157.9Z" fill="#00ff00"/><path d="M1245.38 180.4H1259.38L1252.38 194.8Z" fill="#00ff00"/><path d="M1306.9 214.2H1320.9L1313.9 228.6Z" fill="#00ff00"/><path d="M1368.42 243.9H1382.42L1375.42 258.3Z" fill="#00ff00"/><path d="M1429.94 271.7H1443.94L1436.94 286.1Z" fill="#00ff00"/><path d="M1491.46 296.3H1505.46L1498.46 310.7Z" fill="#00ff00"/><path d="M1552.98 321.1H1566.98L1559.98 335.5Z" fill="#00ff00"/><path d="M1614.5 347.7H1628.5L1621.5 362.1Z" fill="#00ff00"/><path d="M1676.02 383.4H1690.02L1683.02 397.8Z" fill="#00ff00"/><path d="M1737.54 431.1H1751.54L1744.54 445.5Z" fill="#00ff00"/></g>
<g><path d="M999.3 21.1H1013.3L1006.3 35.5Z" fill="#ff0000"/><path d="M1060.82 58.6H1074.82L1067.82 73Z" fill="#ff0000"/><path d="M1122.34 94.9H1136.34L1129.34 109.3Z" fill="#ff0000"/><path d="M1183.86 129.9H1197.86L1190.86 144.3Z" fill="#ff0000"/><path d="M1245.38 164.2H1259.38L1252.38 178.6Z" fill="#ff0000"/><path d="M1306.9 195.3H1320.9L1313.9 209.7Z" fill="#ff0000"/><path d="M1368.42 223.8H1382.42L1375.42 238.2Z" fill="#ff0000"/><path d="M1429.94 250.4H1443.94L1436.94 264.8Z" fill="#ff0000"/><path d="M1491.46 276.3H1505.46L1498.46 290.7Z" fill="#ff0000"/><path d="M1552.98 302.6H1566.98L1559.98 317Z" fill="#ff0000"/><path d="M1614.5 333H1628.5L1621.5 347.4Z" fill="#ff0000"/><path d="M1676.02 373H1690.02L1683.02 387.4Z" fill="#ff0000"/><path d="M1737.54 427.6H1751.54L1744.54 442Z" fill="#ff0000"/></g>
<path d="M1006.6 476.2v-8.2M1006.6 1.3v8.2M1045.05 476.2v-4.7M1045.05 1.3v4.7M1083.5 476.2v-4.7M1083.5 1.3v4.7M1121.95 476.2v-4.7M1121.95 1.3v4.7M1160.4 476.2v-8.2M1160.4 1.3v8.2M1198.85 476.2v-4.7M1198.85 1.3v4.7M1237.3 476.2v-4.7M1237.3 1.3v4.7M1275.75 476.2v-4.7M1275.75 1.3v4.7M1314.2 476.2v-8.2M1314.2 1.3v8.2M1352.65 476.2v-4.7M1352.65 1.3v4.7M1391.1 476.2v-4.7M1391.1 1.3v4.7M1429.55 476.2v-4.7M1429.55 1.3v4.7M1468 476.2v-8.2M1468 1.3v8.2M1506.45 476.2v-4.7M1506.45 1.3v4.7M1544.9 476.2v-4.7M1544.9 1.3v4.7M1583.35 476.2v-4.7M1583.35 1.3v4.7M1621.8 476.2v-8.2M1621.8 1.3v8.2M1660.25 476.2v-4.7M1660.25 1.3v4.7M1698.7 476.2v-4.7M1698.7 1.3v4.7M1737.15 476.2v-4.7M1737.15 1.3v4.7M991.5 466.9h8.2M1760.4 466.9h-8.2M991.5 444.8h4.7M1760.4 444.8h-4.7M991.5 422.71h4.7M1760.4 422.71h-4.7M991.5 400.61h4.7M1760.4 400.61h-4.7M991.5 378.52h8.2M1760.4 378.52h-8.2M991.5 356.42h4.7M1760.4 356.42h-4.7M991.5 334.33h4.7M1760.4 334.33h-4.7M991.5 312.23h4.7M1760.4 312.23h-4.7M991.5 290.14h8.2M1760.4 290.14h-8.2M991.5 268.05h4.7M1760.4 268.05h-4.7M991.5 245.95h4.7M1760.4 245.95h-4.7M991.5 223.85h4.7M1760.4 223.85h-4.7M991.5 201.76h8.2M1760.4 201.76h-8.2M991.5 179.66h4.7M1760.4 179.66h-4.7M991.5 157.57h4.7M1760.4 157.57h-4.7M991.5 135.47h4.7M1760.4 135.47h-4.7M991.5 113.38h8.2M1760.4 113.38h-8.2M991.5 91.28h4.7M1760.4 91.28h-4.7M991.5 69.19h4.7M1760.4 69.19h-4.7M991.5 47.09h4.7M1760.4 47.09h-4.7M991.5 25h8.2M1760.4 25h-8.2M991.5 2.9h4.7M1760.4 2.9h-4.7" stroke="#666666" stroke-width="1.4" fill="none"/>
<rect x="991.5" y="1.3" width="768.9" height="474.9" fill="none" stroke="#666666" stroke-width="1.6"/>
<text class="tk" text-anchor="end" transform="translate(984.8 477.4) scale(1 1.035)">0.0</text>
<text class="tk" text-anchor="end" transform="translate(984.8 389.02) scale(1 1.035)">0.2</text>
<text class="tk" text-anchor="end" transform="translate(984.8 300.64) scale(1 1.035)">0.4</text>
<text class="tk" text-anchor="end" transform="translate(984.8 212.26) scale(1 1.035)">0.6</text>
<text class="tk" text-anchor="end" transform="translate(984.8 123.88) scale(1 1.035)">0.8</text>
<text class="tk" text-anchor="end" transform="translate(984.8 35.5) scale(1 1.035)">1.0</text>
<text class="tk" text-anchor="middle" transform="translate(1007 510.7) scale(1 1.035)">0.0</text>
<text class="tk" text-anchor="middle" transform="translate(1160.8 510.7) scale(1 1.035)">0.2</text>
<text class="tk" text-anchor="middle" transform="translate(1314.6 510.7) scale(1 1.035)">0.4</text>
<text class="tk" text-anchor="middle" transform="translate(1468.4 510.7) scale(1 1.035)">0.6</text>
<text class="tk" text-anchor="middle" transform="translate(1622.2 510.7) scale(1 1.035)">0.8</text>
<text class="ax" text-anchor="middle" transform="translate(1376.4 557.8)">η</text>
<text class="ax" text-anchor="middle" transform="translate(929.3 238.6) rotate(-90)">θ(η)</text>
<text class="cap" text-anchor="middle" transform="translate(1377.5 606.7)">(b)</text>
<rect x="1006" y="211.7" width="237" height="252.4" fill="#fff" stroke="#000" stroke-width="1.45"/>
<path d="M1013.8 229.6H1038.8" stroke="#0000ff" stroke-width="2.8" fill="none"/>
<rect x="1021.15" y="225.3" width="9.9" height="9.9" fill="none" stroke="#0000ff" stroke-width="1.5"/>
<text class="lg" transform="translate(1070.1 238.6) scale(1.06 1.055)">H</text>
<text class="lg" style="font-size:17.3px" transform="translate(1088.7 243.9)">S</text>
<text class="lg" transform="translate(1103.3 239.1) scale(1.16 1)">=</text>
<text class="lg" transform="translate(1121.5 238.6) scale(0.93 1.055)">1.1</text>
<text class="lg" transform="translate(1160.4 238.6) scale(1 1.055)">(Brk.)</text>
<path d="M1013.8 257.06H1038.8" stroke="#00ff00" stroke-width="2.8" fill="none"/>
<rect x="1021.15" y="252.76" width="9.9" height="9.9" fill="none" stroke="#00ff00" stroke-width="1.5"/>
<text class="lg" transform="translate(1070.1 266.06) scale(1.06 1.055)">H</text>
<text class="lg" style="font-size:17.3px" transform="translate(1088.7 271.36)">S</text>
<text class="lg" transform="translate(1103.3 266.56) scale(1.16 1)">=</text>
<text class="lg" transform="translate(1121.5 266.06) scale(0.93 1.055)">1.5</text>
<text class="lg" transform="translate(1160.4 266.06) scale(1 1.055)">(Brk.)</text>
<path d="M1013.8 284.52H1038.8" stroke="#ff0000" stroke-width="2.8" fill="none"/>
<rect x="1021.15" y="280.22" width="9.9" height="9.9" fill="none" stroke="#ff0000" stroke-width="1.5"/>
<text class="lg" transform="translate(1070.1 293.52) scale(1.06 1.055)">H</text>
<text class="lg" style="font-size:17.3px" transform="translate(1088.7 298.82)">S</text>
<text class="lg" transform="translate(1103.3 294.02) scale(1.16 1)">=</text>
<text class="lg" transform="translate(1121.5 293.52) scale(0.93 1.055)">1.9</text>
<text class="lg" transform="translate(1160.4 293.52) scale(1 1.055)">(Brk.)</text>
<path d="M1013.8 311.98H1038.8" stroke="#0000ff" stroke-width="2.8" fill="none"/>
<circle cx="1026.5" cy="314.93" r="7.85" fill="none" stroke="#0000ff" stroke-width="1.5"/>
<text class="lg" transform="translate(1070.1 320.98) scale(1.06 1.055)">H</text>
<text class="lg" style="font-size:17.3px" transform="translate(1088.7 326.28)">S</text>
<text class="lg" transform="translate(1103.3 321.48) scale(1.16 1)">=</text>
<text class="lg" transform="translate(1121.5 320.98) scale(0.93 1.055)">1.1</text>
<text class="lg" transform="translate(1160.4 320.98) scale(1 1.055)">(Cyl.)</text>
<path d="M1013.8 339.44H1038.8" stroke="#00ff00" stroke-width="2.8" fill="none"/>
<circle cx="1026.5" cy="342.39" r="7.85" fill="none" stroke="#00ff00" stroke-width="1.5"/>
<text class="lg" transform="translate(1070.1 348.44) scale(1.06 1.055)">H</text>
<text class="lg" style="font-size:17.3px" transform="translate(1088.7 353.74)">S</text>
<text class="lg" transform="translate(1103.3 348.94) scale(1.16 1)">=</text>
<text class="lg" transform="translate(1121.5 348.44) scale(0.93 1.055)">1.5</text>
<text class="lg" transform="translate(1160.4 348.44) scale(1 1.055)">(Cyl.)</text>
<path d="M1013.8 366.9H1038.8" stroke="#ff0000" stroke-width="2.8" fill="none"/>
<circle cx="1026.5" cy="369.85" r="7.85" fill="none" stroke="#ff0000" stroke-width="1.5"/>
<text class="lg" transform="translate(1070.1 375.9) scale(1.06 1.055)">H</text>
<text class="lg" style="font-size:17.3px" transform="translate(1088.7 381.2)">S</text>
<text class="lg" transform="translate(1103.3 376.4) scale(1.16 1)">=</text>
<text class="lg" transform="translate(1121.5 375.9) scale(0.93 1.055)">1.9</text>
<text class="lg" transform="translate(1160.4 375.9) scale(1 1.055)">(Cyl.)</text>
<path d="M1013.8 394.36H1038.8" stroke="#0000ff" stroke-width="2.8" fill="none"/>
<path d="M1019 390.46H1033L1026 404.86Z" fill="#0000ff"/>
<text class="lg" transform="translate(1070.1 403.36) scale(1.06 1.055)">H</text>
<text class="lg" style="font-size:17.3px" transform="translate(1088.7 408.66)">S</text>
<text class="lg" transform="translate(1103.3 403.86) scale(1.16 1)">=</text>
<text class="lg" transform="translate(1121.5 403.36) scale(0.93 1.055)">1.1</text>
<text class="lg" transform="translate(1160.4 403.36) scale(1 1.055)">(Plat.)</text>
<path d="M1013.8 421.82H1038.8" stroke="#00ff00" stroke-width="2.8" fill="none"/>
<path d="M1019 417.92H1033L1026 432.32Z" fill="#00ff00"/>
<text class="lg" transform="translate(1070.1 430.82) scale(1.06 1.055)">H</text>
<text class="lg" style="font-size:17.3px" transform="translate(1088.7 436.12)">S</text>
<text class="lg" transform="translate(1103.3 431.32) scale(1.16 1)">=</text>
<text class="lg" transform="translate(1121.5 430.82) scale(0.93 1.055)">1.5</text>
<text class="lg" transform="translate(1160.4 430.82) scale(1 1.055)">(Plat.)</text>
<path d="M1013.8 449.28H1038.8" stroke="#ff0000" stroke-width="2.8" fill="none"/>
<path d="M1019 445.38H1033L1026 459.78Z" fill="#ff0000"/>
<text class="lg" transform="translate(1070.1 458.28) scale(1.06 1.055)">H</text>
<text class="lg" style="font-size:17.3px" transform="translate(1088.7 463.58)">S</text>
<text class="lg" transform="translate(1103.3 458.78) scale(1.16 1)">=</text>
<text class="lg" transform="translate(1121.5 458.28) scale(0.93 1.055)">1.9</text>
<text class="lg" transform="translate(1160.4 458.28) scale(1 1.055)">(Plat.)</text>
</g>
<g id="panel-c">
<g stroke="#666" stroke-opacity="0.34" stroke-width="2.5" fill="none">
<path d="M250 646.5V1121.6"/>
<path d="M403.8 646.5V1121.6"/>
<path d="M557.6 646.5V1121.6"/>
<path d="M711.4 646.5V1121.6"/>
<path d="M81.1 1023.48H850"/>
<path d="M81.1 935.16H850"/>
<path d="M81.1 846.84H850"/>
<path d="M81.1 758.52H850"/>
<path d="M81.1 670.2H850"/>
</g>
<g fill="none" stroke-width="4.1" stroke-linejoin="round">
<path d="M96.2 670.2L157.72 711.75L219.24 752.55L280.76 792.25L342.28 830.55L403.8 867.45L465.32 901.35L526.84 932.15L588.36 961.25L649.88 989.25L711.4 1017.95L772.92 1048.55L834.44 1088.45" stroke="#0000ff"/>
<path d="M96.2 670.2L157.72 714.35L219.24 758.35L280.76 801.95L342.28 842.95L403.8 881.55L465.32 916.95L526.84 951.25L588.36 981.25L649.88 1008.35L711.4 1033.65L772.92 1057.95L834.44 1090.85" stroke="#00ff00"/>
<path d="M96.2 670.2L157.72 721.35L219.24 770.85L280.76 821.35L342.28 870.55L403.8 913.85L465.32 949.25L526.84 982.95L588.36 1011.75L649.88 1034.15L711.4 1054.95L772.92 1074.65L834.44 1096.65" stroke="#ff0000"/>
<path d="M96.2 670.2L157.72 712.7L219.24 756.7L280.76 800.2L342.28 841.3L403.8 879.6L465.32 916L526.84 948.9L588.36 978.9L649.88 1006.4L711.4 1032.5L772.92 1059.4L834.44 1091" stroke="#0000ff"/>
<path d="M96.2 670.2L157.72 718.4L219.24 767.2L280.76 814.6L342.28 861.7L403.8 904L465.32 943.9L526.84 977.7L588.36 1007.4L649.88 1032.6L711.4 1053.3L772.92 1073.3L834.44 1096.1" stroke="#00ff00"/>
<path d="M96.2 670.2L157.72 728.4L219.24 782.1L280.76 837L342.28 890.4L403.8 938.5L465.32 981.9L526.84 1017.9L588.36 1046.1L649.88 1068.2L711.4 1083.9L772.92 1094.6L834.44 1105.1" stroke="#ff0000"/>
<path d="M96.2 670.2L157.72 717.2L219.24 762.4L280.76 805.9L342.28 848.4L403.8 888.7L465.32 926.15L526.84 959.9L588.36 990.15L649.88 1018L711.4 1043.6L772.92 1068L834.44 1095" stroke="#0000ff"/>
<path d="M96.2 670.2L157.72 723.4L219.24 773.65L280.76 824.85L342.28 872.4L403.8 916.95L465.32 957.4L526.84 993L588.36 1025.1L649.88 1048.55L711.4 1067.9L772.92 1085.5L834.44 1101.3" stroke="#00ff00"/>
<path d="M96.2 670.2L157.72 731.3L219.24 790.25L280.76 848L342.28 903.7L403.8 955.25L465.32 999.6L526.84 1038.3L588.36 1068L649.88 1089.6L711.4 1102.4L772.92 1107.9L834.44 1111" stroke="#ff0000"/>
</g>
<g><rect x="91.05" y="665.9" width="9.9" height="9.9" fill="none" stroke="#0000ff" stroke-width="1.5"/><rect x="152.57" y="707.45" width="9.9" height="9.9" fill="none" stroke="#0000ff" stroke-width="1.5"/><rect x="214.09" y="748.25" width="9.9" height="9.9" fill="none" stroke="#0000ff" stroke-width="1.5"/><rect x="275.61" y="787.95" width="9.9" height="9.9" fill="none" stroke="#0000ff" stroke-width="1.5"/><rect x="337.13" y="826.25" width="9.9" height="9.9" fill="none" stroke="#0000ff" stroke-width="1.5"/><rect x="398.65" y="863.15" width="9.9" height="9.9" fill="none" stroke="#0000ff" stroke-width="1.5"/><rect x="460.17" y="897.05" width="9.9" height="9.9" fill="none" stroke="#0000ff" stroke-width="1.5"/><rect x="521.69" y="927.85" width="9.9" height="9.9" fill="none" stroke="#0000ff" stroke-width="1.5"/><rect x="583.21" y="956.95" width="9.9" height="9.9" fill="none" stroke="#0000ff" stroke-width="1.5"/><rect x="644.73" y="984.95" width="9.9" height="9.9" fill="none" stroke="#0000ff" stroke-width="1.5"/><rect x="706.25" y="1013.65" width="9.9" height="9.9" fill="none" stroke="#0000ff" stroke-width="1.5"/><rect x="767.77" y="1044.25" width="9.9" height="9.9" fill="none" stroke="#0000ff" stroke-width="1.5"/><rect x="829.29" y="1084.15" width="9.9" height="9.9" fill="none" stroke="#0000ff" stroke-width="1.5"/></g>
<g><rect x="91.05" y="665.9" width="9.9" height="9.9" fill="none" stroke="#00ff00" stroke-width="1.5"/><rect x="152.57" y="710.05" width="9.9" height="9.9" fill="none" stroke="#00ff00" stroke-width="1.5"/><rect x="214.09" y="754.05" width="9.9" height="9.9" fill="none" stroke="#00ff00" stroke-width="1.5"/><rect x="275.61" y="797.65" width="9.9" height="9.9" fill="none" stroke="#00ff00" stroke-width="1.5"/><rect x="337.13" y="838.65" width="9.9" height="9.9" fill="none" stroke="#00ff00" stroke-width="1.5"/><rect x="398.65" y="877.25" width="9.9" height="9.9" fill="none" stroke="#00ff00" stroke-width="1.5"/><rect x="460.17" y="912.65" width="9.9" height="9.9" fill="none" stroke="#00ff00" stroke-width="1.5"/><rect x="521.69" y="946.95" width="9.9" height="9.9" fill="none" stroke="#00ff00" stroke-width="1.5"/><rect x="583.21" y="976.95" width="9.9" height="9.9" fill="none" stroke="#00ff00" stroke-width="1.5"/><rect x="644.73" y="1004.05" width="9.9" height="9.9" fill="none" stroke="#00ff00" stroke-width="1.5"/><rect x="706.25" y="1029.35" width="9.9" height="9.9" fill="none" stroke="#00ff00" stroke-width="1.5"/><rect x="767.77" y="1053.65" width="9.9" height="9.9" fill="none" stroke="#00ff00" stroke-width="1.5"/><rect x="829.29" y="1086.55" width="9.9" height="9.9" fill="none" stroke="#00ff00" stroke-width="1.5"/></g>
<g><rect x="91.05" y="665.9" width="9.9" height="9.9" fill="none" stroke="#ff0000" stroke-width="1.5"/><rect x="152.57" y="717.05" width="9.9" height="9.9" fill="none" stroke="#ff0000" stroke-width="1.5"/><rect x="214.09" y="766.55" width="9.9" height="9.9" fill="none" stroke="#ff0000" stroke-width="1.5"/><rect x="275.61" y="817.05" width="9.9" height="9.9" fill="none" stroke="#ff0000" stroke-width="1.5"/><rect x="337.13" y="866.25" width="9.9" height="9.9" fill="none" stroke="#ff0000" stroke-width="1.5"/><rect x="398.65" y="909.55" width="9.9" height="9.9" fill="none" stroke="#ff0000" stroke-width="1.5"/><rect x="460.17" y="944.95" width="9.9" height="9.9" fill="none" stroke="#ff0000" stroke-width="1.5"/><rect x="521.69" y="978.65" width="9.9" height="9.9" fill="none" stroke="#ff0000" stroke-width="1.5"/><rect x="583.21" y="1007.45" width="9.9" height="9.9" fill="none" stroke="#ff0000" stroke-width="1.5"/><rect x="644.73" y="1029.85" width="9.9" height="9.9" fill="none" stroke="#ff0000" stroke-width="1.5"/><rect x="706.25" y="1050.65" width="9.9" height="9.9" fill="none" stroke="#ff0000" stroke-width="1.5"/><rect x="767.77" y="1070.35" width="9.9" height="9.9" fill="none" stroke="#ff0000" stroke-width="1.5"/><rect x="829.29" y="1092.35" width="9.9" height="9.9" fill="none" stroke="#ff0000" stroke-width="1.5"/></g>
<g><circle cx="96.4" cy="673.35" r="7.85" fill="none" stroke="#0000ff" stroke-width="1.5"/><circle cx="157.92" cy="715.85" r="7.85" fill="none" stroke="#0000ff" stroke-width="1.5"/><circle cx="219.44" cy="759.85" r="7.85" fill="none" stroke="#0000ff" stroke-width="1.5"/><circle cx="280.96" cy="803.35" r="7.85" fill="none" stroke="#0000ff" stroke-width="1.5"/><circle cx="342.48" cy="844.45" r="7.85" fill="none" stroke="#0000ff" stroke-width="1.5"/><circle cx="404" cy="882.75" r="7.85" fill="none" stroke="#0000ff" stroke-width="1.5"/><circle cx="465.52" cy="919.15" r="7.85" fill="none" stroke="#0000ff" stroke-width="1.5"/><circle cx="527.04" cy="952.05" r="7.85" fill="none" stroke="#0000ff" stroke-width="1.5"/><circle cx="588.56" cy="982.05" r="7.85" fill="none" stroke="#0000ff" stroke-width="1.5"/><circle cx="650.08" cy="1009.55" r="7.85" fill="none" stroke="#0000ff" stroke-width="1.5"/><circle cx="711.6" cy="1035.65" r="7.85" fill="none" stroke="#0000ff" stroke-width="1.5"/><circle cx="773.12" cy="1062.55" r="7.85" fill="none" stroke="#0000ff" stroke-width="1.5"/><circle cx="834.64" cy="1094.15" r="7.85" fill="none" stroke="#0000ff" stroke-width="1.5"/></g>
<g><circle cx="96.4" cy="673.35" r="7.85" fill="none" stroke="#00ff00" stroke-width="1.5"/><circle cx="157.92" cy="721.55" r="7.85" fill="none" stroke="#00ff00" stroke-width="1.5"/><circle cx="219.44" cy="770.35" r="7.85" fill="none" stroke="#00ff00" stroke-width="1.5"/><circle cx="280.96" cy="817.75" r="7.85" fill="none" stroke="#00ff00" stroke-width="1.5"/><circle cx="342.48" cy="864.85" r="7.85" fill="none" stroke="#00ff00" stroke-width="1.5"/><circle cx="404" cy="907.15" r="7.85" fill="none" stroke="#00ff00" stroke-width="1.5"/><circle cx="465.52" cy="947.05" r="7.85" fill="none" stroke="#00ff00" stroke-width="1.5"/><circle cx="527.04" cy="980.85" r="7.85" fill="none" stroke="#00ff00" stroke-width="1.5"/><circle cx="588.56" cy="1010.55" r="7.85" fill="none" stroke="#00ff00" stroke-width="1.5"/><circle cx="650.08" cy="1035.75" r="7.85" fill="none" stroke="#00ff00" stroke-width="1.5"/><circle cx="711.6" cy="1056.45" r="7.85" fill="none" stroke="#00ff00" stroke-width="1.5"/><circle cx="773.12" cy="1076.45" r="7.85" fill="none" stroke="#00ff00" stroke-width="1.5"/><circle cx="834.64" cy="1099.25" r="7.85" fill="none" stroke="#00ff00" stroke-width="1.5"/></g>
<g><circle cx="96.4" cy="673.35" r="7.85" fill="none" stroke="#ff0000" stroke-width="1.5"/><circle cx="157.92" cy="731.55" r="7.85" fill="none" stroke="#ff0000" stroke-width="1.5"/><circle cx="219.44" cy="785.25" r="7.85" fill="none" stroke="#ff0000" stroke-width="1.5"/><circle cx="280.96" cy="840.15" r="7.85" fill="none" stroke="#ff0000" stroke-width="1.5"/><circle cx="342.48" cy="893.55" r="7.85" fill="none" stroke="#ff0000" stroke-width="1.5"/><circle cx="404" cy="941.65" r="7.85" fill="none" stroke="#ff0000" stroke-width="1.5"/><circle cx="465.52" cy="985.05" r="7.85" fill="none" stroke="#ff0000" stroke-width="1.5"/><circle cx="527.04" cy="1021.05" r="7.85" fill="none" stroke="#ff0000" stroke-width="1.5"/><circle cx="588.56" cy="1049.25" r="7.85" fill="none" stroke="#ff0000" stroke-width="1.5"/><circle cx="650.08" cy="1071.35" r="7.85" fill="none" stroke="#ff0000" stroke-width="1.5"/><circle cx="711.6" cy="1087.05" r="7.85" fill="none" stroke="#ff0000" stroke-width="1.5"/><circle cx="773.12" cy="1097.75" r="7.85" fill="none" stroke="#ff0000" stroke-width="1.5"/><circle cx="834.64" cy="1108.25" r="7.85" fill="none" stroke="#ff0000" stroke-width="1.5"/></g>
<g><path d="M88.9 666.3H102.9L95.9 680.7Z" fill="#0000ff"/><path d="M150.42 713.3H164.42L157.42 727.7Z" fill="#0000ff"/><path d="M211.94 758.5H225.94L218.94 772.9Z" fill="#0000ff"/><path d="M273.46 802H287.46L280.46 816.4Z" fill="#0000ff"/><path d="M334.98 844.5H348.98L341.98 858.9Z" fill="#0000ff"/><path d="M396.5 884.8H410.5L403.5 899.2Z" fill="#0000ff"/><path d="M458.02 922.25H472.02L465.02 936.65Z" fill="#0000ff"/><path d="M519.54 956H533.54L526.54 970.4Z" fill="#0000ff"/><path d="M581.06 986.25H595.06L588.06 1000.65Z" fill="#0000ff"/><path d="M642.58 1014.1H656.58L649.58 1028.5Z" fill="#0000ff"/><path d="M704.1 1039.7H718.1L711.1 1054.1Z" fill="#0000ff"/><path d="M765.62 1064.1H779.62L772.62 1078.5Z" fill="#0000ff"/><path d="M827.14 1091.1H841.14L834.14 1105.5Z" fill="#0000ff"/></g>
<g><path d="M88.9 666.3H102.9L95.9 680.7Z" fill="#00ff00"/><path d="M150.42 719.5H164.42L157.42 733.9Z" fill="#00ff00"/><path d="M211.94 769.75H225.94L218.94 784.15Z" fill="#00ff00"/><path d="M273.46 820.95H287.46L280.46 835.35Z" fill="#00ff00"/><path d="M334.98 868.5H348.98L341.98 882.9Z" fill="#00ff00"/><path d="M396.5 913.05H410.5L403.5 927.45Z" fill="#00ff00"/><path d="M458.02 953.5H472.02L465.02 967.9Z" fill="#00ff00"/><path d="M519.54 989.1H533.54L526.54 1003.5Z" fill="#00ff00"/><path d="M581.06 1021.2H595.06L588.06 1035.6Z" fill="#00ff00"/><path d="M642.58 1044.65H656.58L649.58 1059.05Z" fill="#00ff00"/><path d="M704.1 1064H718.1L711.1 1078.4Z" fill="#00ff00"/><path d="M765.62 1081.6H779.62L772.62 1096Z" fill="#00ff00"/><path d="M827.14 1097.4H841.14L834.14 1111.8Z" fill="#00ff00"/></g>
<g><path d="M88.9 666.3H102.9L95.9 680.7Z" fill="#ff0000"/><path d="M150.42 727.4H164.42L157.42 741.8Z" fill="#ff0000"/><path d="M211.94 786.35H225.94L218.94 800.75Z" fill="#ff0000"/><path d="M273.46 844.1H287.46L280.46 858.5Z" fill="#ff0000"/><path d="M334.98 899.8H348.98L341.98 914.2Z" fill="#ff0000"/><path d="M396.5 951.35H410.5L403.5 965.75Z" fill="#ff0000"/><path d="M458.02 995.7H472.02L465.02 1010.1Z" fill="#ff0000"/><path d="M519.54 1034.4H533.54L526.54 1048.8Z" fill="#ff0000"/><path d="M581.06 1064.1H595.06L588.06 1078.5Z" fill="#ff0000"/><path d="M642.58 1085.7H656.58L649.58 1100.1Z" fill="#ff0000"/><path d="M704.1 1098.5H718.1L711.1 1112.9Z" fill="#ff0000"/><path d="M765.62 1104H779.62L772.62 1118.4Z" fill="#ff0000"/><path d="M827.14 1107.1H841.14L834.14 1121.5Z" fill="#ff0000"/></g>
<path d="M96.2 1121.6v-8.2M96.2 646.5v8.2M134.65 1121.6v-4.7M134.65 646.5v4.7M173.1 1121.6v-4.7M173.1 646.5v4.7M211.55 1121.6v-4.7M211.55 646.5v4.7M250 1121.6v-8.2M250 646.5v8.2M288.45 1121.6v-4.7M288.45 646.5v4.7M326.9 1121.6v-4.7M326.9 646.5v4.7M365.35 1121.6v-4.7M365.35 646.5v4.7M403.8 1121.6v-8.2M403.8 646.5v8.2M442.25 1121.6v-4.7M442.25 646.5v4.7M480.7 1121.6v-4.7M480.7 646.5v4.7M519.15 1121.6v-4.7M519.15 646.5v4.7M557.6 1121.6v-8.2M557.6 646.5v8.2M596.05 1121.6v-4.7M596.05 646.5v4.7M634.5 1121.6v-4.7M634.5 646.5v4.7M672.95 1121.6v-4.7M672.95 646.5v4.7M711.4 1121.6v-8.2M711.4 646.5v8.2M749.85 1121.6v-4.7M749.85 646.5v4.7M788.3 1121.6v-4.7M788.3 646.5v4.7M826.75 1121.6v-4.7M826.75 646.5v4.7M81.1 1111.8h8.2M850 1111.8h-8.2M81.1 1089.72h4.7M850 1089.72h-4.7M81.1 1067.64h4.7M850 1067.64h-4.7M81.1 1045.56h4.7M850 1045.56h-4.7M81.1 1023.48h8.2M850 1023.48h-8.2M81.1 1001.4h4.7M850 1001.4h-4.7M81.1 979.32h4.7M850 979.32h-4.7M81.1 957.24h4.7M850 957.24h-4.7M81.1 935.16h8.2M850 935.16h-8.2M81.1 913.08h4.7M850 913.08h-4.7M81.1 891h4.7M850 891h-4.7M81.1 868.92h4.7M850 868.92h-4.7M81.1 846.84h8.2M850 846.84h-8.2M81.1 824.76h4.7M850 824.76h-4.7M81.1 802.68h4.7M850 802.68h-4.7M81.1 780.6h4.7M850 780.6h-4.7M81.1 758.52h8.2M850 758.52h-8.2M81.1 736.44h4.7M850 736.44h-4.7M81.1 714.36h4.7M850 714.36h-4.7M81.1 692.28h4.7M850 692.28h-4.7M81.1 670.2h8.2M850 670.2h-8.2M81.1 648.12h4.7M850 648.12h-4.7" stroke="#666666" stroke-width="1.4" fill="none"/>
<rect x="81.1" y="646.5" width="768.9" height="475.1" fill="none" stroke="#666666" stroke-width="1.6"/>
<text class="tk" text-anchor="end" transform="translate(74.4 1122.3) scale(1 1.035)">0.0</text>
<text class="tk" text-anchor="end" transform="translate(74.4 1033.98) scale(1 1.035)">0.2</text>
<text class="tk" text-anchor="end" transform="translate(74.4 945.66) scale(1 1.035)">0.4</text>
<text class="tk" text-anchor="end" transform="translate(74.4 857.34) scale(1 1.035)">0.6</text>
<text class="tk" text-anchor="end" transform="translate(74.4 769.02) scale(1 1.035)">0.8</text>
<text class="tk" text-anchor="end" transform="translate(74.4 680.7) scale(1 1.035)">1.0</text>
<text class="tk" text-anchor="middle" transform="translate(96.6 1156.1) scale(1 1.035)">0.0</text>
<text class="tk" text-anchor="middle" transform="translate(250.4 1156.1) scale(1 1.035)">0.2</text>
<text class="tk" text-anchor="middle" transform="translate(404.2 1156.1) scale(1 1.035)">0.4</text>
<text class="tk" text-anchor="middle" transform="translate(558 1156.1) scale(1 1.035)">0.6</text>
<text class="tk" text-anchor="middle" transform="translate(711.8 1156.1) scale(1 1.035)">0.8</text>
<text class="ax" text-anchor="middle" transform="translate(466 1203.2)">η</text>
<text class="ax" text-anchor="middle" transform="translate(18.9 883.8) rotate(-90)">θ(η)</text>
<text class="cap" text-anchor="middle" transform="translate(464 1251.6)">(c)</text>
<rect x="553.2" y="663.9" width="279.7" height="264.8" fill="#fff" stroke="#000" stroke-width="1.45"/>
<path d="M562.5 682.4H591.3" stroke="#0000ff" stroke-width="2.8" fill="none"/>
<rect x="571.75" y="678.1" width="9.9" height="9.9" fill="none" stroke="#0000ff" stroke-width="1.5"/>
<text class="lg" transform="translate(630.8 689.7) scale(1.2 1)">φ</text>
<text class="lg" style="font-size:21.6px" transform="translate(645.6 695.9) scale(1.1 1.03)">Rd</text>
<text class="lg" transform="translate(675.9 691.3) scale(1.16 1)">=</text>
<text class="lg" transform="translate(692.6 689.7) scale(1 1.055)">0.15</text>
<text class="lg" transform="translate(748.2 689.7) scale(1 1.055)">(Brk.)</text>
<path d="M562.5 711.28H591.3" stroke="#00ff00" stroke-width="2.8" fill="none"/>
<rect x="571.75" y="706.98" width="9.9" height="9.9" fill="none" stroke="#00ff00" stroke-width="1.5"/>
<text class="lg" transform="translate(630.8 718.58) scale(1.2 1)">φ</text>
<text class="lg" style="font-size:21.6px" transform="translate(645.6 724.78) scale(1.1 1.03)">Rd</text>
<text class="lg" transform="translate(675.9 720.18) scale(1.16 1)">=</text>
<text class="lg" transform="translate(692.6 718.58) scale(1 1.055)">0.20</text>
<text class="lg" transform="translate(748.2 718.58) scale(1 1.055)">(Brk.)</text>
<path d="M562.5 740.16H591.3" stroke="#ff0000" stroke-width="2.8" fill="none"/>
<rect x="571.75" y="735.86" width="9.9" height="9.9" fill="none" stroke="#ff0000" stroke-width="1.5"/>
<text class="lg" transform="translate(630.8 747.46) scale(1.2 1)">φ</text>
<text class="lg" style="font-size:21.6px" transform="translate(645.6 753.66) scale(1.1 1.03)">Rd</text>
<text class="lg" transform="translate(675.9 749.06) scale(1.16 1)">=</text>
<text class="lg" transform="translate(692.6 747.46) scale(1 1.055)">0.25</text>
<text class="lg" transform="translate(748.2 747.46) scale(1 1.055)">(Brk.)</text>
<path d="M562.5 769.04H591.3" stroke="#0000ff" stroke-width="2.8" fill="none"/>
<circle cx="577.1" cy="771.99" r="7.85" fill="none" stroke="#0000ff" stroke-width="1.5"/>
<text class="lg" transform="translate(630.8 776.34) scale(1.2 1)">φ</text>
<text class="lg" style="font-size:21.6px" transform="translate(645.6 782.54) scale(1.1 1.03)">Rd</text>
<text class="lg" transform="translate(675.9 777.94) scale(1.16 1)">=</text>
<text class="lg" transform="translate(692.6 776.34) scale(1 1.055)">0.15</text>
<text class="lg" transform="translate(748.2 776.34) scale(1 1.055)">(Cyl.)</text>
<path d="M562.5 797.92H591.3" stroke="#00ff00" stroke-width="2.8" fill="none"/>
<circle cx="577.1" cy="800.87" r="7.85" fill="none" stroke="#00ff00" stroke-width="1.5"/>
<text class="lg" transform="translate(630.8 805.22) scale(1.2 1)">φ</text>
<text class="lg" style="font-size:21.6px" transform="translate(645.6 811.42) scale(1.1 1.03)">Rd</text>
<text class="lg" transform="translate(675.9 806.82) scale(1.16 1)">=</text>
<text class="lg" transform="translate(692.6 805.22) scale(1 1.055)">0.20</text>
<text class="lg" transform="translate(748.2 805.22) scale(1 1.055)">(Cyl.)</text>
<path d="M562.5 826.8H591.3" stroke="#ff0000" stroke-width="2.8" fill="none"/>
<circle cx="577.1" cy="829.75" r="7.85" fill="none" stroke="#ff0000" stroke-width="1.5"/>
<text class="lg" transform="translate(630.8 834.1) scale(1.2 1)">φ</text>
<text class="lg" style="font-size:21.6px" transform="translate(645.6 840.3) scale(1.1 1.03)">Rd</text>
<text class="lg" transform="translate(675.9 835.7) scale(1.16 1)">=</text>
<text class="lg" transform="translate(692.6 834.1) scale(1 1.055)">0.25</text>
<text class="lg" transform="translate(748.2 834.1) scale(1 1.055)">(Cyl.)</text>
<path d="M562.5 855.68H591.3" stroke="#0000ff" stroke-width="2.8" fill="none"/>
<path d="M569.6 851.78H583.6L576.6 866.18Z" fill="#0000ff"/>
<text class="lg" transform="translate(630.8 862.98) scale(1.2 1)">φ</text>
<text class="lg" style="font-size:21.6px" transform="translate(645.6 869.18) scale(1.1 1.03)">Rd</text>
<text class="lg" transform="translate(675.9 864.58) scale(1.16 1)">=</text>
<text class="lg" transform="translate(692.6 862.98) scale(1 1.055)">0.15</text>
<text class="lg" transform="translate(748.2 862.98) scale(1 1.055)">(Plat.)</text>
<path d="M562.5 884.56H591.3" stroke="#00ff00" stroke-width="2.8" fill="none"/>
<path d="M569.6 880.66H583.6L576.6 895.06Z" fill="#00ff00"/>
<text class="lg" transform="translate(630.8 891.86) scale(1.2 1)">φ</text>
<text class="lg" style="font-size:21.6px" transform="translate(645.6 898.06) scale(1.1 1.03)">Rd</text>
<text class="lg" transform="translate(675.9 893.46) scale(1.16 1)">=</text>
<text class="lg" transform="translate(692.6 891.86) scale(1 1.055)">0.20</text>
<text class="lg" transform="translate(748.2 891.86) scale(1 1.055)">(Plat.)</text>
<path d="M562.5 913.44H591.3" stroke="#ff0000" stroke-width="2.8" fill="none"/>
<path d="M569.6 909.54H583.6L576.6 923.94Z" fill="#ff0000"/>
<text class="lg" transform="translate(630.8 920.74) scale(1.2 1)">φ</text>
<text class="lg" style="font-size:21.6px" transform="translate(645.6 926.94) scale(1.1 1.03)">Rd</text>
<text class="lg" transform="translate(675.9 922.34) scale(1.16 1)">=</text>
<text class="lg" transform="translate(692.6 920.74) scale(1 1.055)">0.25</text>
<text class="lg" transform="translate(748.2 920.74) scale(1 1.055)">(Plat.)</text>
</g>
<g id="panel-d">
<g stroke="#666" stroke-opacity="0.34" stroke-width="2.5" fill="none">
<path d="M1160.4 646.5V1121.6"/>
<path d="M1314.2 646.5V1121.6"/>
<path d="M1468 646.5V1121.6"/>
<path d="M1621.8 646.5V1121.6"/>
<path d="M991.5 1095.9H1760.4"/>
<path d="M991.5 1010.76H1760.4"/>
<path d="M991.5 925.62H1760.4"/>
<path d="M991.5 840.48H1760.4"/>
<path d="M991.5 755.34H1760.4"/>
<path d="M991.5 670.2H1760.4"/>
</g>
<g fill="none" stroke-width="4.1" stroke-linejoin="round">
<path d="M1006.6 670.2L1068.12 709.25L1129.64 747.95L1191.16 785.45L1252.68 821.95L1314.2 855.95L1375.72 887.05L1437.24 917.35L1498.76 945.55L1560.28 973.85L1621.8 1001.75L1683.32 1032.95L1744.84 1071.65" stroke="#0000ff"/>
<path d="M1006.6 670.2L1068.12 712.85L1129.64 756.35L1191.16 799.65L1252.68 840.95L1314.2 879.25L1375.72 914.15L1437.24 944.45L1498.76 972.85L1560.28 996.85L1621.8 1021.35L1683.32 1045.85L1744.84 1077.85" stroke="#00ff00"/>
<path d="M1006.6 670.2L1068.12 722.35L1129.64 774.35L1191.16 824.25L1252.68 870.45L1314.2 912.95L1375.72 950.55L1437.24 982.95L1498.76 1010.45L1560.28 1029.15L1621.8 1046.45L1683.32 1062.65L1744.84 1085.35" stroke="#ff0000"/>
<path d="M1006.6 670.2L1068.12 708.4L1129.64 749.6L1191.16 791.1L1252.68 830.8L1314.2 866.5L1375.72 900.4L1437.24 932.2L1498.76 962.2L1560.28 988.4L1621.8 1015.1L1683.32 1042.6L1744.84 1075.8" stroke="#0000ff"/>
<path d="M1006.6 670.2L1068.12 716.7L1129.64 763.2L1191.16 809.9L1252.68 855.8L1314.2 896.4L1375.72 933.6L1437.24 966.4L1498.76 995.2L1560.28 1018.9L1621.8 1039.5L1683.32 1058.2L1744.84 1082.5" stroke="#00ff00"/>
<path d="M1006.6 670.2L1068.12 727.2L1129.64 782.1L1191.16 837L1252.68 890L1314.2 937.1L1375.72 979.1L1437.24 1014.4L1498.76 1042.1L1560.28 1062.6L1621.8 1075.6L1683.32 1083.8L1744.84 1091" stroke="#ff0000"/>
<path d="M1006.6 670.2L1068.12 713L1129.64 756.2L1191.16 797.9L1252.68 838L1314.2 875.6L1375.72 911.1L1437.24 943.1L1498.76 972.4L1560.28 999.85L1621.8 1024.8L1683.32 1051L1744.84 1080.3" stroke="#0000ff"/>
<path d="M1006.6 670.2L1068.12 721L1129.64 770.6L1191.16 818.6L1252.68 865.3L1314.2 908.6L1375.72 946.65L1437.24 979.85L1498.76 1010.4L1560.28 1034.8L1621.8 1053.55L1683.32 1069.85L1744.84 1086.5" stroke="#00ff00"/>
<path d="M1006.6 670.2L1068.12 730.5L1129.64 791.2L1191.16 847.5L1252.68 903.1L1314.2 954.1L1375.72 998L1437.24 1036.7L1498.76 1066.8L1560.28 1084.8L1621.8 1095.5L1683.32 1097.9L1744.84 1096.6" stroke="#ff0000"/>
</g>
<g><rect x="1001.45" y="665.9" width="9.9" height="9.9" fill="none" stroke="#0000ff" stroke-width="1.5"/><rect x="1062.97" y="704.95" width="9.9" height="9.9" fill="none" stroke="#0000ff" stroke-width="1.5"/><rect x="1124.49" y="743.65" width="9.9" height="9.9" fill="none" stroke="#0000ff" stroke-width="1.5"/><rect x="1186.01" y="781.15" width="9.9" height="9.9" fill="none" stroke="#0000ff" stroke-width="1.5"/><rect x="1247.53" y="817.65" width="9.9" height="9.9" fill="none" stroke="#0000ff" stroke-width="1.5"/><rect x="1309.05" y="851.65" width="9.9" height="9.9" fill="none" stroke="#0000ff" stroke-width="1.5"/><rect x="1370.57" y="882.75" width="9.9" height="9.9" fill="none" stroke="#0000ff" stroke-width="1.5"/><rect x="1432.09" y="913.05" width="9.9" height="9.9" fill="none" stroke="#0000ff" stroke-width="1.5"/><rect x="1493.61" y="941.25" width="9.9" height="9.9" fill="none" stroke="#0000ff" stroke-width="1.5"/><rect x="1555.13" y="969.55" width="9.9" height="9.9" fill="none" stroke="#0000ff" stroke-width="1.5"/><rect x="1616.65" y="997.45" width="9.9" height="9.9" fill="none" stroke="#0000ff" stroke-width="1.5"/><rect x="1678.17" y="1028.65" width="9.9" height="9.9" fill="none" stroke="#0000ff" stroke-width="1.5"/><rect x="1739.69" y="1067.35" width="9.9" height="9.9" fill="none" stroke="#0000ff" stroke-width="1.5"/></g>
<g><rect x="1001.45" y="665.9" width="9.9" height="9.9" fill="none" stroke="#00ff00" stroke-width="1.5"/><rect x="1062.97" y="708.55" width="9.9" height="9.9" fill="none" stroke="#00ff00" stroke-width="1.5"/><rect x="1124.49" y="752.05" width="9.9" height="9.9" fill="none" stroke="#00ff00" stroke-width="1.5"/><rect x="1186.01" y="795.35" width="9.9" height="9.9" fill="none" stroke="#00ff00" stroke-width="1.5"/><rect x="1247.53" y="836.65" width="9.9" height="9.9" fill="none" stroke="#00ff00" stroke-width="1.5"/><rect x="1309.05" y="874.95" width="9.9" height="9.9" fill="none" stroke="#00ff00" stroke-width="1.5"/><rect x="1370.57" y="909.85" width="9.9" height="9.9" fill="none" stroke="#00ff00" stroke-width="1.5"/><rect x="1432.09" y="940.15" width="9.9" height="9.9" fill="none" stroke="#00ff00" stroke-width="1.5"/><rect x="1493.61" y="968.55" width="9.9" height="9.9" fill="none" stroke="#00ff00" stroke-width="1.5"/><rect x="1555.13" y="992.55" width="9.9" height="9.9" fill="none" stroke="#00ff00" stroke-width="1.5"/><rect x="1616.65" y="1017.05" width="9.9" height="9.9" fill="none" stroke="#00ff00" stroke-width="1.5"/><rect x="1678.17" y="1041.55" width="9.9" height="9.9" fill="none" stroke="#00ff00" stroke-width="1.5"/><rect x="1739.69" y="1073.55" width="9.9" height="9.9" fill="none" stroke="#00ff00" stroke-width="1.5"/></g>
<g><rect x="1001.45" y="665.9" width="9.9" height="9.9" fill="none" stroke="#ff0000" stroke-width="1.5"/><rect x="1062.97" y="718.05" width="9.9" height="9.9" fill="none" stroke="#ff0000" stroke-width="1.5"/><rect x="1124.49" y="770.05" width="9.9" height="9.9" fill="none" stroke="#ff0000" stroke-width="1.5"/><rect x="1186.01" y="819.95" width="9.9" height="9.9" fill="none" stroke="#ff0000" stroke-width="1.5"/><rect x="1247.53" y="866.15" width="9.9" height="9.9" fill="none" stroke="#ff0000" stroke-width="1.5"/><rect x="1309.05" y="908.65" width="9.9" height="9.9" fill="none" stroke="#ff0000" stroke-width="1.5"/><rect x="1370.57" y="946.25" width="9.9" height="9.9" fill="none" stroke="#ff0000" stroke-width="1.5"/><rect x="1432.09" y="978.65" width="9.9" height="9.9" fill="none" stroke="#ff0000" stroke-width="1.5"/><rect x="1493.61" y="1006.15" width="9.9" height="9.9" fill="none" stroke="#ff0000" stroke-width="1.5"/><rect x="1555.13" y="1024.85" width="9.9" height="9.9" fill="none" stroke="#ff0000" stroke-width="1.5"/><rect x="1616.65" y="1042.15" width="9.9" height="9.9" fill="none" stroke="#ff0000" stroke-width="1.5"/><rect x="1678.17" y="1058.35" width="9.9" height="9.9" fill="none" stroke="#ff0000" stroke-width="1.5"/><rect x="1739.69" y="1081.05" width="9.9" height="9.9" fill="none" stroke="#ff0000" stroke-width="1.5"/></g>
<g><circle cx="1006.8" cy="673.35" r="7.85" fill="none" stroke="#0000ff" stroke-width="1.5"/><circle cx="1068.32" cy="711.55" r="7.85" fill="none" stroke="#0000ff" stroke-width="1.5"/><circle cx="1129.84" cy="752.75" r="7.85" fill="none" stroke="#0000ff" stroke-width="1.5"/><circle cx="1191.36" cy="794.25" r="7.85" fill="none" stroke="#0000ff" stroke-width="1.5"/><circle cx="1252.88" cy="833.95" r="7.85" fill="none" stroke="#0000ff" stroke-width="1.5"/><circle cx="1314.4" cy="869.65" r="7.85" fill="none" stroke="#0000ff" stroke-width="1.5"/><circle cx="1375.92" cy="903.55" r="7.85" fill="none" stroke="#0000ff" stroke-width="1.5"/><circle cx="1437.44" cy="935.35" r="7.85" fill="none" stroke="#0000ff" stroke-width="1.5"/><circle cx="1498.96" cy="965.35" r="7.85" fill="none" stroke="#0000ff" stroke-width="1.5"/><circle cx="1560.48" cy="991.55" r="7.85" fill="none" stroke="#0000ff" stroke-width="1.5"/><circle cx="1622" cy="1018.25" r="7.85" fill="none" stroke="#0000ff" stroke-width="1.5"/><circle cx="1683.52" cy="1045.75" r="7.85" fill="none" stroke="#0000ff" stroke-width="1.5"/><circle cx="1745.04" cy="1078.95" r="7.85" fill="none" stroke="#0000ff" stroke-width="1.5"/></g>
<g><circle cx="1006.8" cy="673.35" r="7.85" fill="none" stroke="#00ff00" stroke-width="1.5"/><circle cx="1068.32" cy="719.85" r="7.85" fill="none" stroke="#00ff00" stroke-width="1.5"/><circle cx="1129.84" cy="766.35" r="7.85" fill="none" stroke="#00ff00" stroke-width="1.5"/><circle cx="1191.36" cy="813.05" r="7.85" fill="none" stroke="#00ff00" stroke-width="1.5"/><circle cx="1252.88" cy="858.95" r="7.85" fill="none" stroke="#00ff00" stroke-width="1.5"/><circle cx="1314.4" cy="899.55" r="7.85" fill="none" stroke="#00ff00" stroke-width="1.5"/><circle cx="1375.92" cy="936.75" r="7.85" fill="none" stroke="#00ff00" stroke-width="1.5"/><circle cx="1437.44" cy="969.55" r="7.85" fill="none" stroke="#00ff00" stroke-width="1.5"/><circle cx="1498.96" cy="998.35" r="7.85" fill="none" stroke="#00ff00" stroke-width="1.5"/><circle cx="1560.48" cy="1022.05" r="7.85" fill="none" stroke="#00ff00" stroke-width="1.5"/><circle cx="1622" cy="1042.65" r="7.85" fill="none" stroke="#00ff00" stroke-width="1.5"/><circle cx="1683.52" cy="1061.35" r="7.85" fill="none" stroke="#00ff00" stroke-width="1.5"/><circle cx="1745.04" cy="1085.65" r="7.85" fill="none" stroke="#00ff00" stroke-width="1.5"/></g>
<g><circle cx="1006.8" cy="673.35" r="7.85" fill="none" stroke="#ff0000" stroke-width="1.5"/><circle cx="1068.32" cy="730.35" r="7.85" fill="none" stroke="#ff0000" stroke-width="1.5"/><circle cx="1129.84" cy="785.25" r="7.85" fill="none" stroke="#ff0000" stroke-width="1.5"/><circle cx="1191.36" cy="840.15" r="7.85" fill="none" stroke="#ff0000" stroke-width="1.5"/><circle cx="1252.88" cy="893.15" r="7.85" fill="none" stroke="#ff0000" stroke-width="1.5"/><circle cx="1314.4" cy="940.25" r="7.85" fill="none" stroke="#ff0000" stroke-width="1.5"/><circle cx="1375.92" cy="982.25" r="7.85" fill="none" stroke="#ff0000" stroke-width="1.5"/><circle cx="1437.44" cy="1017.55" r="7.85" fill="none" stroke="#ff0000" stroke-width="1.5"/><circle cx="1498.96" cy="1045.25" r="7.85" fill="none" stroke="#ff0000" stroke-width="1.5"/><circle cx="1560.48" cy="1065.75" r="7.85" fill="none" stroke="#ff0000" stroke-width="1.5"/><circle cx="1622" cy="1078.75" r="7.85" fill="none" stroke="#ff0000" stroke-width="1.5"/><circle cx="1683.52" cy="1086.95" r="7.85" fill="none" stroke="#ff0000" stroke-width="1.5"/><circle cx="1745.04" cy="1094.15" r="7.85" fill="none" stroke="#ff0000" stroke-width="1.5"/></g>
<g><path d="M999.3 666.3H1013.3L1006.3 680.7Z" fill="#0000ff"/><path d="M1060.82 709.1H1074.82L1067.82 723.5Z" fill="#0000ff"/><path d="M1122.34 752.3H1136.34L1129.34 766.7Z" fill="#0000ff"/><path d="M1183.86 794H1197.86L1190.86 808.4Z" fill="#0000ff"/><path d="M1245.38 834.1H1259.38L1252.38 848.5Z" fill="#0000ff"/><path d="M1306.9 871.7H1320.9L1313.9 886.1Z" fill="#0000ff"/><path d="M1368.42 907.2H1382.42L1375.42 921.6Z" fill="#0000ff"/><path d="M1429.94 939.2H1443.94L1436.94 953.6Z" fill="#0000ff"/><path d="M1491.46 968.5H1505.46L1498.46 982.9Z" fill="#0000ff"/><path d="M1552.98 995.95H1566.98L1559.98 1010.35Z" fill="#0000ff"/><path d="M1614.5 1020.9H1628.5L1621.5 1035.3Z" fill="#0000ff"/><path d="M1676.02 1047.1H1690.02L1683.02 1061.5Z" fill="#0000ff"/><path d="M1737.54 1076.4H1751.54L1744.54 1090.8Z" fill="#0000ff"/></g>
<g><path d="M999.3 666.3H1013.3L1006.3 680.7Z" fill="#00ff00"/><path d="M1060.82 717.1H1074.82L1067.82 731.5Z" fill="#00ff00"/><path d="M1122.34 766.7H1136.34L1129.34 781.1Z" fill="#00ff00"/><path d="M1183.86 814.7H1197.86L1190.86 829.1Z" fill="#00ff00"/><path d="M1245.38 861.4H1259.38L1252.38 875.8Z" fill="#00ff00"/><path d="M1306.9 904.7H1320.9L1313.9 919.1Z" fill="#00ff00"/><path d="M1368.42 942.75H1382.42L1375.42 957.15Z" fill="#00ff00"/><path d="M1429.94 975.95H1443.94L1436.94 990.35Z" fill="#00ff00"/><path d="M1491.46 1006.5H1505.46L1498.46 1020.9Z" fill="#00ff00"/><path d="M1552.98 1030.9H1566.98L1559.98 1045.3Z" fill="#00ff00"/><path d="M1614.5 1049.65H1628.5L1621.5 1064.05Z" fill="#00ff00"/><path d="M1676.02 1065.95H1690.02L1683.02 1080.35Z" fill="#00ff00"/><path d="M1737.54 1082.6H1751.54L1744.54 1097Z" fill="#00ff00"/></g>
<g><path d="M999.3 666.3H1013.3L1006.3 680.7Z" fill="#ff0000"/><path d="M1060.82 726.6H1074.82L1067.82 741Z" fill="#ff0000"/><path d="M1122.34 787.3H1136.34L1129.34 801.7Z" fill="#ff0000"/><path d="M1183.86 843.6H1197.86L1190.86 858Z" fill="#ff0000"/><path d="M1245.38 899.2H1259.38L1252.38 913.6Z" fill="#ff0000"/><path d="M1306.9 950.2H1320.9L1313.9 964.6Z" fill="#ff0000"/><path d="M1368.42 994.1H1382.42L1375.42 1008.5Z" fill="#ff0000"/><path d="M1429.94 1032.8H1443.94L1436.94 1047.2Z" fill="#ff0000"/><path d="M1491.46 1062.9H1505.46L1498.46 1077.3Z" fill="#ff0000"/><path d="M1552.98 1080.9H1566.98L1559.98 1095.3Z" fill="#ff0000"/><path d="M1614.5 1091.6H1628.5L1621.5 1106Z" fill="#ff0000"/><path d="M1676.02 1094H1690.02L1683.02 1108.4Z" fill="#ff0000"/><path d="M1737.54 1092.7H1751.54L1744.54 1107.1Z" fill="#ff0000"/></g>
<path d="M1006.6 1121.6v-8.2M1006.6 646.5v8.2M1045.05 1121.6v-4.7M1045.05 646.5v4.7M1083.5 1121.6v-4.7M1083.5 646.5v4.7M1121.95 1121.6v-4.7M1121.95 646.5v4.7M1160.4 1121.6v-8.2M1160.4 646.5v8.2M1198.85 1121.6v-4.7M1198.85 646.5v4.7M1237.3 1121.6v-4.7M1237.3 646.5v4.7M1275.75 1121.6v-4.7M1275.75 646.5v4.7M1314.2 1121.6v-8.2M1314.2 646.5v8.2M1352.65 1121.6v-4.7M1352.65 646.5v4.7M1391.1 1121.6v-4.7M1391.1 646.5v4.7M1429.55 1121.6v-4.7M1429.55 646.5v4.7M1468 1121.6v-8.2M1468 646.5v8.2M1506.45 1121.6v-4.7M1506.45 646.5v4.7M1544.9 1121.6v-4.7M1544.9 646.5v4.7M1583.35 1121.6v-4.7M1583.35 646.5v4.7M1621.8 1121.6v-8.2M1621.8 646.5v8.2M1660.25 1121.6v-4.7M1660.25 646.5v4.7M1698.7 1121.6v-4.7M1698.7 646.5v4.7M1737.15 1121.6v-4.7M1737.15 646.5v4.7M991.5 1117.18h4.7M1760.4 1117.18h-4.7M991.5 1095.9h8.2M1760.4 1095.9h-8.2M991.5 1074.62h4.7M1760.4 1074.62h-4.7M991.5 1053.33h4.7M1760.4 1053.33h-4.7M991.5 1032.05h4.7M1760.4 1032.05h-4.7M991.5 1010.76h8.2M1760.4 1010.76h-8.2M991.5 989.48h4.7M1760.4 989.48h-4.7M991.5 968.19h4.7M1760.4 968.19h-4.7M991.5 946.9h4.7M1760.4 946.9h-4.7M991.5 925.62h8.2M1760.4 925.62h-8.2M991.5 904.34h4.7M1760.4 904.34h-4.7M991.5 883.05h4.7M1760.4 883.05h-4.7M991.5 861.76h4.7M1760.4 861.76h-4.7M991.5 840.48h8.2M1760.4 840.48h-8.2M991.5 819.2h4.7M1760.4 819.2h-4.7M991.5 797.91h4.7M1760.4 797.91h-4.7M991.5 776.62h4.7M1760.4 776.62h-4.7M991.5 755.34h8.2M1760.4 755.34h-8.2M991.5 734.06h4.7M1760.4 734.06h-4.7M991.5 712.77h4.7M1760.4 712.77h-4.7M991.5 691.49h4.7M1760.4 691.49h-4.7M991.5 670.2h8.2M1760.4 670.2h-8.2M991.5 648.92h4.7M1760.4 648.92h-4.7" stroke="#666666" stroke-width="1.4" fill="none"/>
<rect x="991.5" y="646.5" width="768.9" height="475.1" fill="none" stroke="#666666" stroke-width="1.6"/>
<text class="tk" text-anchor="end" transform="translate(984.8 1106.4) scale(1 1.035)">0.0</text>
<text class="tk" text-anchor="end" transform="translate(984.8 1021.26) scale(1 1.035)">0.2</text>
<text class="tk" text-anchor="end" transform="translate(984.8 936.12) scale(1 1.035)">0.4</text>
<text class="tk" text-anchor="end" transform="translate(984.8 850.98) scale(1 1.035)">0.6</text>
<text class="tk" text-anchor="end" transform="translate(984.8 765.84) scale(1 1.035)">0.8</text>
<text class="tk" text-anchor="end" transform="translate(984.8 680.7) scale(1 1.035)">1.0</text>
<text class="tk" text-anchor="middle" transform="translate(1007 1156.1) scale(1 1.035)">0.0</text>
<text class="tk" text-anchor="middle" transform="translate(1160.8 1156.1) scale(1 1.035)">0.2</text>
<text class="tk" text-anchor="middle" transform="translate(1314.6 1156.1) scale(1 1.035)">0.4</text>
<text class="tk" text-anchor="middle" transform="translate(1468.4 1156.1) scale(1 1.035)">0.6</text>
<text class="tk" text-anchor="middle" transform="translate(1622.2 1156.1) scale(1 1.035)">0.8</text>
<text class="ax" text-anchor="middle" transform="translate(1376.4 1203.2)">η</text>
<text class="ax" text-anchor="middle" transform="translate(929.3 883.8) rotate(-90)">θ(η)</text>
<text class="cap" text-anchor="middle" transform="translate(1374.4 1251.6)">(d)</text>
<rect x="1471.6" y="666.1" width="271.3" height="248.1" fill="#fff" stroke="#000" stroke-width="1.45"/>
<path d="M1480.6 683.1H1508.7" stroke="#0000ff" stroke-width="2.8" fill="none"/>
<rect x="1489.5" y="678.8" width="9.9" height="9.9" fill="none" stroke="#0000ff" stroke-width="1.5"/>
<text class="lg" transform="translate(1547 690.2) scale(1.2 1)">φ</text>
<text class="lg" style="font-size:22.6px" transform="translate(1562.4 697) scale(0.98 1)">Al</text>
<text class="lg" transform="translate(1584.3 692.1) scale(1.16 1)">=</text>
<text class="lg" transform="translate(1600.5 690.2) scale(1 1.055)">0.15</text>
<text class="lg" transform="translate(1655.7 690.2) scale(1 1.055)">(Brk.)</text>
<path d="M1480.6 710.16H1508.7" stroke="#00ff00" stroke-width="2.8" fill="none"/>
<rect x="1489.5" y="705.86" width="9.9" height="9.9" fill="none" stroke="#00ff00" stroke-width="1.5"/>
<text class="lg" transform="translate(1547 717.26) scale(1.2 1)">φ</text>
<text class="lg" style="font-size:22.6px" transform="translate(1562.4 724.06) scale(0.98 1)">Al</text>
<text class="lg" transform="translate(1584.3 719.16) scale(1.16 1)">=</text>
<text class="lg" transform="translate(1600.5 717.26) scale(1 1.055)">0.20</text>
<text class="lg" transform="translate(1655.7 717.26) scale(1 1.055)">(Brk.)</text>
<path d="M1480.6 737.22H1508.7" stroke="#ff0000" stroke-width="2.8" fill="none"/>
<rect x="1489.5" y="732.92" width="9.9" height="9.9" fill="none" stroke="#ff0000" stroke-width="1.5"/>
<text class="lg" transform="translate(1547 744.32) scale(1.2 1)">φ</text>
<text class="lg" style="font-size:22.6px" transform="translate(1562.4 751.12) scale(0.98 1)">Al</text>
<text class="lg" transform="translate(1584.3 746.22) scale(1.16 1)">=</text>
<text class="lg" transform="translate(1600.5 744.32) scale(1 1.055)">0.25</text>
<text class="lg" transform="translate(1655.7 744.32) scale(1 1.055)">(Brk.)</text>
<path d="M1480.6 764.28H1508.7" stroke="#0000ff" stroke-width="2.8" fill="none"/>
<circle cx="1494.85" cy="767.23" r="7.85" fill="none" stroke="#0000ff" stroke-width="1.5"/>
<text class="lg" transform="translate(1547 771.38) scale(1.2 1)">φ</text>
<text class="lg" style="font-size:22.6px" transform="translate(1562.4 778.18) scale(0.98 1)">Al</text>
<text class="lg" transform="translate(1584.3 773.28) scale(1.16 1)">=</text>
<text class="lg" transform="translate(1600.5 771.38) scale(1 1.055)">0.15</text>
<text class="lg" transform="translate(1655.7 771.38) scale(1 1.055)">(Cyl.)</text>
<path d="M1480.6 791.34H1508.7" stroke="#00ff00" stroke-width="2.8" fill="none"/>
<circle cx="1494.85" cy="794.29" r="7.85" fill="none" stroke="#00ff00" stroke-width="1.5"/>
<text class="lg" transform="translate(1547 798.44) scale(1.2 1)">φ</text>
<text class="lg" style="font-size:22.6px" transform="translate(1562.4 805.24) scale(0.98 1)">Al</text>
<text class="lg" transform="translate(1584.3 800.34) scale(1.16 1)">=</text>
<text class="lg" transform="translate(1600.5 798.44) scale(1 1.055)">0.20</text>
<text class="lg" transform="translate(1655.7 798.44) scale(1 1.055)">(Cyl.)</text>
<path d="M1480.6 818.4H1508.7" stroke="#ff0000" stroke-width="2.8" fill="none"/>
<circle cx="1494.85" cy="821.35" r="7.85" fill="none" stroke="#ff0000" stroke-width="1.5"/>
<text class="lg" transform="translate(1547 825.5) scale(1.2 1)">φ</text>
<text class="lg" style="font-size:22.6px" transform="translate(1562.4 832.3) scale(0.98 1)">Al</text>
<text class="lg" transform="translate(1584.3 827.4) scale(1.16 1)">=</text>
<text class="lg" transform="translate(1600.5 825.5) scale(1 1.055)">0.25</text>
<text class="lg" transform="translate(1655.7 825.5) scale(1 1.055)">(Cyl.)</text>
<path d="M1480.6 845.46H1508.7" stroke="#0000ff" stroke-width="2.8" fill="none"/>
<path d="M1487.35 841.56H1501.35L1494.35 855.96Z" fill="#0000ff"/>
<text class="lg" transform="translate(1547 852.56) scale(1.2 1)">φ</text>
<text class="lg" style="font-size:22.6px" transform="translate(1562.4 859.36) scale(0.98 1)">Al</text>
<text class="lg" transform="translate(1584.3 854.46) scale(1.16 1)">=</text>
<text class="lg" transform="translate(1600.5 852.56) scale(1 1.055)">0.15</text>
<text class="lg" transform="translate(1655.7 852.56) scale(1 1.055)">(Plat.)</text>
<path d="M1480.6 872.52H1508.7" stroke="#00ff00" stroke-width="2.8" fill="none"/>
<path d="M1487.35 868.62H1501.35L1494.35 883.02Z" fill="#00ff00"/>
<text class="lg" transform="translate(1547 879.62) scale(1.2 1)">φ</text>
<text class="lg" style="font-size:22.6px" transform="translate(1562.4 886.42) scale(0.98 1)">Al</text>
<text class="lg" transform="translate(1584.3 881.52) scale(1.16 1)">=</text>
<text class="lg" transform="translate(1600.5 879.62) scale(1 1.055)">0.20</text>
<text class="lg" transform="translate(1655.7 879.62) scale(1 1.055)">(Plat.)</text>
<path d="M1480.6 899.58H1508.7" stroke="#ff0000" stroke-width="2.8" fill="none"/>
<path d="M1487.35 895.68H1501.35L1494.35 910.08Z" fill="#ff0000"/>
<text class="lg" transform="translate(1547 906.68) scale(1.2 1)">φ</text>
<text class="lg" style="font-size:22.6px" transform="translate(1562.4 913.48) scale(0.98 1)">Al</text>
<text class="lg" transform="translate(1584.3 908.58) scale(1.16 1)">=</text>
<text class="lg" transform="translate(1600.5 906.68) scale(1 1.055)">0.25</text>
<text class="lg" transform="translate(1655.7 906.68) scale(1 1.055)">(Plat.)</text>
</g>
</svg>
</body>
</html>
